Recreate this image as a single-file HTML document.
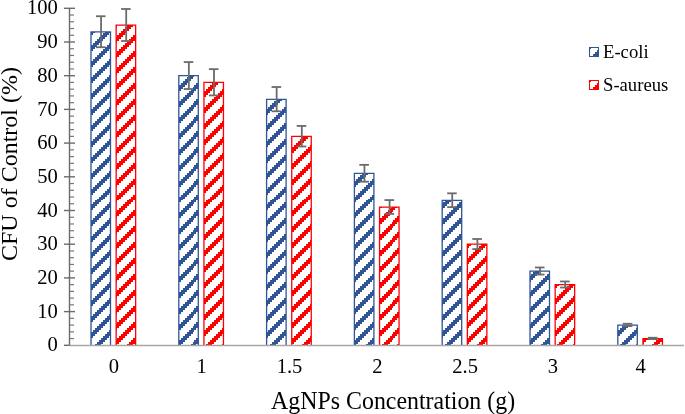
<!DOCTYPE html><html><head><meta charset="utf-8"><style>html,body{margin:0;padding:0;background:#fff;}svg{display:block;will-change:transform}text{font-family:"Liberation Serif",serif}</style></head><body>
<svg width="685" height="414" viewBox="0 0 685 414">

<rect width="685" height="414" fill="#fff"/>
<line x1="69.5" y1="8.30" x2="69.5" y2="346.00" stroke="#6d6a6a" stroke-width="1.4"/>
<line x1="64" y1="345.30" x2="69.5" y2="345.30" stroke="#6d6a6a" stroke-width="1.4"/>
<line x1="69.5" y1="338.56" x2="74" y2="338.56" stroke="#7a7676" stroke-width="1.2"/>
<line x1="69.5" y1="331.82" x2="74" y2="331.82" stroke="#7a7676" stroke-width="1.2"/>
<line x1="69.5" y1="325.08" x2="74" y2="325.08" stroke="#7a7676" stroke-width="1.2"/>
<line x1="69.5" y1="318.34" x2="74" y2="318.34" stroke="#7a7676" stroke-width="1.2"/>
<line x1="64" y1="311.60" x2="75" y2="311.60" stroke="#6d6a6a" stroke-width="1.4"/>
<line x1="69.5" y1="304.86" x2="74" y2="304.86" stroke="#7a7676" stroke-width="1.2"/>
<line x1="69.5" y1="298.12" x2="74" y2="298.12" stroke="#7a7676" stroke-width="1.2"/>
<line x1="69.5" y1="291.38" x2="74" y2="291.38" stroke="#7a7676" stroke-width="1.2"/>
<line x1="69.5" y1="284.64" x2="74" y2="284.64" stroke="#7a7676" stroke-width="1.2"/>
<line x1="64" y1="277.90" x2="75" y2="277.90" stroke="#6d6a6a" stroke-width="1.4"/>
<line x1="69.5" y1="271.16" x2="74" y2="271.16" stroke="#7a7676" stroke-width="1.2"/>
<line x1="69.5" y1="264.42" x2="74" y2="264.42" stroke="#7a7676" stroke-width="1.2"/>
<line x1="69.5" y1="257.68" x2="74" y2="257.68" stroke="#7a7676" stroke-width="1.2"/>
<line x1="69.5" y1="250.94" x2="74" y2="250.94" stroke="#7a7676" stroke-width="1.2"/>
<line x1="64" y1="244.20" x2="75" y2="244.20" stroke="#6d6a6a" stroke-width="1.4"/>
<line x1="69.5" y1="237.46" x2="74" y2="237.46" stroke="#7a7676" stroke-width="1.2"/>
<line x1="69.5" y1="230.72" x2="74" y2="230.72" stroke="#7a7676" stroke-width="1.2"/>
<line x1="69.5" y1="223.98" x2="74" y2="223.98" stroke="#7a7676" stroke-width="1.2"/>
<line x1="69.5" y1="217.24" x2="74" y2="217.24" stroke="#7a7676" stroke-width="1.2"/>
<line x1="64" y1="210.50" x2="75" y2="210.50" stroke="#6d6a6a" stroke-width="1.4"/>
<line x1="69.5" y1="203.76" x2="74" y2="203.76" stroke="#7a7676" stroke-width="1.2"/>
<line x1="69.5" y1="197.02" x2="74" y2="197.02" stroke="#7a7676" stroke-width="1.2"/>
<line x1="69.5" y1="190.28" x2="74" y2="190.28" stroke="#7a7676" stroke-width="1.2"/>
<line x1="69.5" y1="183.54" x2="74" y2="183.54" stroke="#7a7676" stroke-width="1.2"/>
<line x1="64" y1="176.80" x2="75" y2="176.80" stroke="#6d6a6a" stroke-width="1.4"/>
<line x1="69.5" y1="170.06" x2="74" y2="170.06" stroke="#7a7676" stroke-width="1.2"/>
<line x1="69.5" y1="163.32" x2="74" y2="163.32" stroke="#7a7676" stroke-width="1.2"/>
<line x1="69.5" y1="156.58" x2="74" y2="156.58" stroke="#7a7676" stroke-width="1.2"/>
<line x1="69.5" y1="149.84" x2="74" y2="149.84" stroke="#7a7676" stroke-width="1.2"/>
<line x1="64" y1="143.10" x2="75" y2="143.10" stroke="#6d6a6a" stroke-width="1.4"/>
<line x1="69.5" y1="136.36" x2="74" y2="136.36" stroke="#7a7676" stroke-width="1.2"/>
<line x1="69.5" y1="129.62" x2="74" y2="129.62" stroke="#7a7676" stroke-width="1.2"/>
<line x1="69.5" y1="122.88" x2="74" y2="122.88" stroke="#7a7676" stroke-width="1.2"/>
<line x1="69.5" y1="116.14" x2="74" y2="116.14" stroke="#7a7676" stroke-width="1.2"/>
<line x1="64" y1="109.40" x2="75" y2="109.40" stroke="#6d6a6a" stroke-width="1.4"/>
<line x1="69.5" y1="102.66" x2="74" y2="102.66" stroke="#7a7676" stroke-width="1.2"/>
<line x1="69.5" y1="95.92" x2="74" y2="95.92" stroke="#7a7676" stroke-width="1.2"/>
<line x1="69.5" y1="89.18" x2="74" y2="89.18" stroke="#7a7676" stroke-width="1.2"/>
<line x1="69.5" y1="82.44" x2="74" y2="82.44" stroke="#7a7676" stroke-width="1.2"/>
<line x1="64" y1="75.70" x2="75" y2="75.70" stroke="#6d6a6a" stroke-width="1.4"/>
<line x1="69.5" y1="68.96" x2="74" y2="68.96" stroke="#7a7676" stroke-width="1.2"/>
<line x1="69.5" y1="62.22" x2="74" y2="62.22" stroke="#7a7676" stroke-width="1.2"/>
<line x1="69.5" y1="55.48" x2="74" y2="55.48" stroke="#7a7676" stroke-width="1.2"/>
<line x1="69.5" y1="48.74" x2="74" y2="48.74" stroke="#7a7676" stroke-width="1.2"/>
<line x1="64" y1="42.00" x2="75" y2="42.00" stroke="#6d6a6a" stroke-width="1.4"/>
<line x1="69.5" y1="35.26" x2="74" y2="35.26" stroke="#7a7676" stroke-width="1.2"/>
<line x1="69.5" y1="28.52" x2="74" y2="28.52" stroke="#7a7676" stroke-width="1.2"/>
<line x1="69.5" y1="21.78" x2="74" y2="21.78" stroke="#7a7676" stroke-width="1.2"/>
<line x1="69.5" y1="15.04" x2="74" y2="15.04" stroke="#7a7676" stroke-width="1.2"/>
<line x1="64" y1="8.30" x2="75" y2="8.30" stroke="#6d6a6a" stroke-width="1.4"/>
<text transform="translate(57.8,351.40) scale(1,1.06)" text-anchor="end" font-size="20.6" fill="#000">0</text>
<text transform="translate(57.8,317.70) scale(1,1.06)" text-anchor="end" font-size="20.6" fill="#000">10</text>
<text transform="translate(57.8,284.00) scale(1,1.06)" text-anchor="end" font-size="20.6" fill="#000">20</text>
<text transform="translate(57.8,250.30) scale(1,1.06)" text-anchor="end" font-size="20.6" fill="#000">30</text>
<text transform="translate(57.8,216.60) scale(1,1.06)" text-anchor="end" font-size="20.6" fill="#000">40</text>
<text transform="translate(57.8,182.90) scale(1,1.06)" text-anchor="end" font-size="20.6" fill="#000">50</text>
<text transform="translate(57.8,149.20) scale(1,1.06)" text-anchor="end" font-size="20.6" fill="#000">60</text>
<text transform="translate(57.8,115.50) scale(1,1.06)" text-anchor="end" font-size="20.6" fill="#000">70</text>
<text transform="translate(57.8,81.80) scale(1,1.06)" text-anchor="end" font-size="20.6" fill="#000">80</text>
<text transform="translate(57.8,48.10) scale(1,1.06)" text-anchor="end" font-size="20.6" fill="#000">90</text>
<text transform="translate(57.8,14.40) scale(1,1.06)" text-anchor="end" font-size="20.6" fill="#000">100</text>
<path d="M91.00 31.89H94.99V33.33H91.00ZM104.94 31.89H110.50V33.33H104.94ZM91.00 33.33H93.00V35.32H91.00ZM102.95 33.33H108.92V35.32H102.95ZM91.00 35.32H91.01V37.31H91.00ZM100.96 35.32H106.93V37.31H100.96ZM98.97 37.31H104.94V39.30H98.97ZM96.98 39.30H102.95V41.29H96.98ZM94.99 41.29H100.96V43.28H94.99ZM93.00 43.28H98.97V45.27H93.00ZM108.92 43.28H110.50V45.27H108.92ZM91.01 45.27H96.98V47.26H91.01ZM106.93 45.27H110.50V47.26H106.93ZM91.00 47.26H94.99V49.25H91.00ZM104.94 47.26H110.50V49.25H104.94ZM91.00 49.25H93.00V51.24H91.00ZM102.95 49.25H108.92V51.24H102.95ZM91.00 51.24H91.01V53.23H91.00ZM100.96 51.24H106.93V53.23H100.96ZM98.97 53.23H104.94V55.22H98.97ZM96.98 55.22H102.95V57.21H96.98ZM94.99 57.21H100.96V59.20H94.99ZM93.00 59.20H98.97V61.19H93.00ZM108.92 59.20H110.50V61.19H108.92ZM91.01 61.19H96.98V63.18H91.01ZM106.93 61.19H110.50V63.18H106.93ZM91.00 63.18H94.99V65.17H91.00ZM104.94 63.18H110.50V65.17H104.94ZM91.00 65.17H93.00V67.16H91.00ZM102.95 65.17H108.92V67.16H102.95ZM91.00 67.16H91.01V69.15H91.00ZM100.96 67.16H106.93V69.15H100.96ZM98.97 69.15H104.94V71.14H98.97ZM96.98 71.14H102.95V73.13H96.98ZM94.99 73.13H100.96V75.12H94.99ZM93.00 75.12H98.97V77.11H93.00ZM108.92 75.12H110.50V77.11H108.92ZM91.01 77.11H96.98V79.10H91.01ZM106.93 77.11H110.50V79.10H106.93ZM91.00 79.10H94.99V81.09H91.00ZM104.94 79.10H110.50V81.09H104.94ZM91.00 81.09H93.00V83.08H91.00ZM102.95 81.09H108.92V83.08H102.95ZM91.00 83.08H91.01V85.07H91.00ZM100.96 83.08H106.93V85.07H100.96ZM98.97 85.07H104.94V87.06H98.97ZM96.98 87.06H102.95V89.05H96.98ZM94.99 89.05H100.96V91.04H94.99ZM93.00 91.04H98.97V93.03H93.00ZM108.92 91.04H110.50V93.03H108.92ZM91.01 93.03H96.98V95.02H91.01ZM106.93 93.03H110.50V95.02H106.93ZM91.00 95.02H94.99V97.01H91.00ZM104.94 95.02H110.50V97.01H104.94ZM91.00 97.01H93.00V99.00H91.00ZM102.95 97.01H108.92V99.00H102.95ZM91.00 99.00H91.01V100.99H91.00ZM100.96 99.00H106.93V100.99H100.96ZM98.97 100.99H104.94V102.98H98.97ZM96.98 102.98H102.95V104.97H96.98ZM94.99 104.97H100.96V106.96H94.99ZM93.00 106.96H98.97V108.95H93.00ZM108.92 106.96H110.50V108.95H108.92ZM91.01 108.95H96.98V110.94H91.01ZM106.93 108.95H110.50V110.94H106.93ZM91.00 110.94H94.99V112.93H91.00ZM104.94 110.94H110.50V112.93H104.94ZM91.00 112.93H93.00V114.92H91.00ZM102.95 112.93H108.92V114.92H102.95ZM91.00 114.92H91.01V116.91H91.00ZM100.96 114.92H106.93V116.91H100.96ZM98.97 116.91H104.94V118.90H98.97ZM96.98 118.90H102.95V120.89H96.98ZM94.99 120.89H100.96V122.88H94.99ZM93.00 122.88H98.97V124.87H93.00ZM108.92 122.88H110.50V124.87H108.92ZM91.01 124.87H96.98V126.86H91.01ZM106.93 124.87H110.50V126.86H106.93ZM91.00 126.86H94.99V128.85H91.00ZM104.94 126.86H110.50V128.85H104.94ZM91.00 128.85H93.00V130.84H91.00ZM102.95 128.85H108.92V130.84H102.95ZM91.00 130.84H91.01V132.83H91.00ZM100.96 130.84H106.93V132.83H100.96ZM98.97 132.83H104.94V134.82H98.97ZM96.98 134.82H102.95V136.81H96.98ZM94.99 136.81H100.96V138.80H94.99ZM93.00 138.80H98.97V140.79H93.00ZM108.92 138.80H110.50V140.79H108.92ZM91.01 140.79H96.98V142.78H91.01ZM106.93 140.79H110.50V142.78H106.93ZM91.00 142.78H94.99V144.77H91.00ZM104.94 142.78H110.50V144.77H104.94ZM91.00 144.77H93.00V146.76H91.00ZM102.95 144.77H108.92V146.76H102.95ZM91.00 146.76H91.01V148.75H91.00ZM100.96 146.76H106.93V148.75H100.96ZM98.97 148.75H104.94V150.74H98.97ZM96.98 150.74H102.95V152.73H96.98ZM94.99 152.73H100.96V154.72H94.99ZM93.00 154.72H98.97V156.71H93.00ZM108.92 154.72H110.50V156.71H108.92ZM91.01 156.71H96.98V158.70H91.01ZM106.93 156.71H110.50V158.70H106.93ZM91.00 158.70H94.99V160.69H91.00ZM104.94 158.70H110.50V160.69H104.94ZM91.00 160.69H93.00V162.68H91.00ZM102.95 160.69H108.92V162.68H102.95ZM91.00 162.68H91.01V164.67H91.00ZM100.96 162.68H106.93V164.67H100.96ZM98.97 164.67H104.94V166.66H98.97ZM96.98 166.66H102.95V168.65H96.98ZM94.99 168.65H100.96V170.64H94.99ZM93.00 170.64H98.97V172.63H93.00ZM108.92 170.64H110.50V172.63H108.92ZM91.01 172.63H96.98V174.62H91.01ZM106.93 172.63H110.50V174.62H106.93ZM91.00 174.62H94.99V176.61H91.00ZM104.94 174.62H110.50V176.61H104.94ZM91.00 176.61H93.00V178.60H91.00ZM102.95 176.61H108.92V178.60H102.95ZM91.00 178.60H91.01V180.59H91.00ZM100.96 178.60H106.93V180.59H100.96ZM98.97 180.59H104.94V182.58H98.97ZM96.98 182.58H102.95V184.57H96.98ZM94.99 184.57H100.96V186.56H94.99ZM93.00 186.56H98.97V188.55H93.00ZM108.92 186.56H110.50V188.55H108.92ZM91.01 188.55H96.98V190.54H91.01ZM106.93 188.55H110.50V190.54H106.93ZM91.00 190.54H94.99V192.53H91.00ZM104.94 190.54H110.50V192.53H104.94ZM91.00 192.53H93.00V194.52H91.00ZM102.95 192.53H108.92V194.52H102.95ZM91.00 194.52H91.01V196.51H91.00ZM100.96 194.52H106.93V196.51H100.96ZM98.97 196.51H104.94V198.50H98.97ZM96.98 198.50H102.95V200.49H96.98ZM94.99 200.49H100.96V202.48H94.99ZM93.00 202.48H98.97V204.47H93.00ZM108.92 202.48H110.50V204.47H108.92ZM91.01 204.47H96.98V206.46H91.01ZM106.93 204.47H110.50V206.46H106.93ZM91.00 206.46H94.99V208.45H91.00ZM104.94 206.46H110.50V208.45H104.94ZM91.00 208.45H93.00V210.44H91.00ZM102.95 208.45H108.92V210.44H102.95ZM91.00 210.44H91.01V212.43H91.00ZM100.96 210.44H106.93V212.43H100.96ZM98.97 212.43H104.94V214.42H98.97ZM96.98 214.42H102.95V216.41H96.98ZM94.99 216.41H100.96V218.40H94.99ZM93.00 218.40H98.97V220.39H93.00ZM108.92 218.40H110.50V220.39H108.92ZM91.01 220.39H96.98V222.38H91.01ZM106.93 220.39H110.50V222.38H106.93ZM91.00 222.38H94.99V224.37H91.00ZM104.94 222.38H110.50V224.37H104.94ZM91.00 224.37H93.00V226.36H91.00ZM102.95 224.37H108.92V226.36H102.95ZM91.00 226.36H91.01V228.35H91.00ZM100.96 226.36H106.93V228.35H100.96ZM98.97 228.35H104.94V230.34H98.97ZM96.98 230.34H102.95V232.33H96.98ZM94.99 232.33H100.96V234.32H94.99ZM93.00 234.32H98.97V236.31H93.00ZM108.92 234.32H110.50V236.31H108.92ZM91.01 236.31H96.98V238.30H91.01ZM106.93 236.31H110.50V238.30H106.93ZM91.00 238.30H94.99V240.29H91.00ZM104.94 238.30H110.50V240.29H104.94ZM91.00 240.29H93.00V242.28H91.00ZM102.95 240.29H108.92V242.28H102.95ZM91.00 242.28H91.01V244.27H91.00ZM100.96 242.28H106.93V244.27H100.96ZM98.97 244.27H104.94V246.26H98.97ZM96.98 246.26H102.95V248.25H96.98ZM94.99 248.25H100.96V250.24H94.99ZM93.00 250.24H98.97V252.23H93.00ZM108.92 250.24H110.50V252.23H108.92ZM91.01 252.23H96.98V254.22H91.01ZM106.93 252.23H110.50V254.22H106.93ZM91.00 254.22H94.99V256.21H91.00ZM104.94 254.22H110.50V256.21H104.94ZM91.00 256.21H93.00V258.20H91.00ZM102.95 256.21H108.92V258.20H102.95ZM91.00 258.20H91.01V260.19H91.00ZM100.96 258.20H106.93V260.19H100.96ZM98.97 260.19H104.94V262.18H98.97ZM96.98 262.18H102.95V264.17H96.98ZM94.99 264.17H100.96V266.16H94.99ZM93.00 266.16H98.97V268.15H93.00ZM108.92 266.16H110.50V268.15H108.92ZM91.01 268.15H96.98V270.14H91.01ZM106.93 268.15H110.50V270.14H106.93ZM91.00 270.14H94.99V272.13H91.00ZM104.94 270.14H110.50V272.13H104.94ZM91.00 272.13H93.00V274.12H91.00ZM102.95 272.13H108.92V274.12H102.95ZM91.00 274.12H91.01V276.11H91.00ZM100.96 274.12H106.93V276.11H100.96ZM98.97 276.11H104.94V278.10H98.97ZM96.98 278.10H102.95V280.09H96.98ZM94.99 280.09H100.96V282.08H94.99ZM93.00 282.08H98.97V284.07H93.00ZM108.92 282.08H110.50V284.07H108.92ZM91.01 284.07H96.98V286.06H91.01ZM106.93 284.07H110.50V286.06H106.93ZM91.00 286.06H94.99V288.05H91.00ZM104.94 286.06H110.50V288.05H104.94ZM91.00 288.05H93.00V290.04H91.00ZM102.95 288.05H108.92V290.04H102.95ZM91.00 290.04H91.01V292.03H91.00ZM100.96 290.04H106.93V292.03H100.96ZM98.97 292.03H104.94V294.02H98.97ZM96.98 294.02H102.95V296.01H96.98ZM94.99 296.01H100.96V298.00H94.99ZM93.00 298.00H98.97V299.99H93.00ZM108.92 298.00H110.50V299.99H108.92ZM91.01 299.99H96.98V301.98H91.01ZM106.93 299.99H110.50V301.98H106.93ZM91.00 301.98H94.99V303.97H91.00ZM104.94 301.98H110.50V303.97H104.94ZM91.00 303.97H93.00V305.96H91.00ZM102.95 303.97H108.92V305.96H102.95ZM91.00 305.96H91.01V307.95H91.00ZM100.96 305.96H106.93V307.95H100.96ZM98.97 307.95H104.94V309.94H98.97ZM96.98 309.94H102.95V311.93H96.98ZM94.99 311.93H100.96V313.92H94.99ZM93.00 313.92H98.97V315.91H93.00ZM108.92 313.92H110.50V315.91H108.92ZM91.01 315.91H96.98V317.90H91.01ZM106.93 315.91H110.50V317.90H106.93ZM91.00 317.90H94.99V319.89H91.00ZM104.94 317.90H110.50V319.89H104.94ZM91.00 319.89H93.00V321.88H91.00ZM102.95 319.89H108.92V321.88H102.95ZM91.00 321.88H91.01V323.87H91.00ZM100.96 321.88H106.93V323.87H100.96ZM98.97 323.87H104.94V325.86H98.97ZM96.98 325.86H102.95V327.85H96.98ZM94.99 327.85H100.96V329.84H94.99ZM93.00 329.84H98.97V331.83H93.00ZM108.92 329.84H110.50V331.83H108.92ZM91.01 331.83H96.98V333.82H91.01ZM106.93 331.83H110.50V333.82H106.93ZM91.00 333.82H94.99V335.81H91.00ZM104.94 333.82H110.50V335.81H104.94ZM91.00 335.81H93.00V337.80H91.00ZM102.95 335.81H108.92V337.80H102.95ZM91.00 337.80H91.01V339.79H91.00ZM100.96 337.80H106.93V339.79H100.96ZM98.97 339.79H104.94V341.78H98.97ZM96.98 341.78H102.95V343.77H96.98ZM94.99 343.77H100.96V345.30H94.99ZM188.52 75.70H194.49V77.11H188.52ZM186.53 77.11H192.50V79.10H186.53ZM184.54 79.10H190.51V81.09H184.54ZM182.55 81.09H188.52V83.08H182.55ZM180.56 83.08H186.53V85.07H180.56ZM196.48 83.08H198.30V85.07H196.48ZM178.80 85.07H184.54V87.06H178.80ZM194.49 85.07H198.30V87.06H194.49ZM178.80 87.06H182.55V89.05H178.80ZM192.50 87.06H198.30V89.05H192.50ZM178.80 89.05H180.56V91.04H178.80ZM190.51 89.05H196.48V91.04H190.51ZM188.52 91.04H194.49V93.03H188.52ZM186.53 93.03H192.50V95.02H186.53ZM184.54 95.02H190.51V97.01H184.54ZM182.55 97.01H188.52V99.00H182.55ZM180.56 99.00H186.53V100.99H180.56ZM196.48 99.00H198.30V100.99H196.48ZM178.80 100.99H184.54V102.98H178.80ZM194.49 100.99H198.30V102.98H194.49ZM178.80 102.98H182.55V104.97H178.80ZM192.50 102.98H198.30V104.97H192.50ZM178.80 104.97H180.56V106.96H178.80ZM190.51 104.97H196.48V106.96H190.51ZM188.52 106.96H194.49V108.95H188.52ZM186.53 108.95H192.50V110.94H186.53ZM184.54 110.94H190.51V112.93H184.54ZM182.55 112.93H188.52V114.92H182.55ZM180.56 114.92H186.53V116.91H180.56ZM196.48 114.92H198.30V116.91H196.48ZM178.80 116.91H184.54V118.90H178.80ZM194.49 116.91H198.30V118.90H194.49ZM178.80 118.90H182.55V120.89H178.80ZM192.50 118.90H198.30V120.89H192.50ZM178.80 120.89H180.56V122.88H178.80ZM190.51 120.89H196.48V122.88H190.51ZM188.52 122.88H194.49V124.87H188.52ZM186.53 124.87H192.50V126.86H186.53ZM184.54 126.86H190.51V128.85H184.54ZM182.55 128.85H188.52V130.84H182.55ZM180.56 130.84H186.53V132.83H180.56ZM196.48 130.84H198.30V132.83H196.48ZM178.80 132.83H184.54V134.82H178.80ZM194.49 132.83H198.30V134.82H194.49ZM178.80 134.82H182.55V136.81H178.80ZM192.50 134.82H198.30V136.81H192.50ZM178.80 136.81H180.56V138.80H178.80ZM190.51 136.81H196.48V138.80H190.51ZM188.52 138.80H194.49V140.79H188.52ZM186.53 140.79H192.50V142.78H186.53ZM184.54 142.78H190.51V144.77H184.54ZM182.55 144.77H188.52V146.76H182.55ZM180.56 146.76H186.53V148.75H180.56ZM196.48 146.76H198.30V148.75H196.48ZM178.80 148.75H184.54V150.74H178.80ZM194.49 148.75H198.30V150.74H194.49ZM178.80 150.74H182.55V152.73H178.80ZM192.50 150.74H198.30V152.73H192.50ZM178.80 152.73H180.56V154.72H178.80ZM190.51 152.73H196.48V154.72H190.51ZM188.52 154.72H194.49V156.71H188.52ZM186.53 156.71H192.50V158.70H186.53ZM184.54 158.70H190.51V160.69H184.54ZM182.55 160.69H188.52V162.68H182.55ZM180.56 162.68H186.53V164.67H180.56ZM196.48 162.68H198.30V164.67H196.48ZM178.80 164.67H184.54V166.66H178.80ZM194.49 164.67H198.30V166.66H194.49ZM178.80 166.66H182.55V168.65H178.80ZM192.50 166.66H198.30V168.65H192.50ZM178.80 168.65H180.56V170.64H178.80ZM190.51 168.65H196.48V170.64H190.51ZM188.52 170.64H194.49V172.63H188.52ZM186.53 172.63H192.50V174.62H186.53ZM184.54 174.62H190.51V176.61H184.54ZM182.55 176.61H188.52V178.60H182.55ZM180.56 178.60H186.53V180.59H180.56ZM196.48 178.60H198.30V180.59H196.48ZM178.80 180.59H184.54V182.58H178.80ZM194.49 180.59H198.30V182.58H194.49ZM178.80 182.58H182.55V184.57H178.80ZM192.50 182.58H198.30V184.57H192.50ZM178.80 184.57H180.56V186.56H178.80ZM190.51 184.57H196.48V186.56H190.51ZM188.52 186.56H194.49V188.55H188.52ZM186.53 188.55H192.50V190.54H186.53ZM184.54 190.54H190.51V192.53H184.54ZM182.55 192.53H188.52V194.52H182.55ZM180.56 194.52H186.53V196.51H180.56ZM196.48 194.52H198.30V196.51H196.48ZM178.80 196.51H184.54V198.50H178.80ZM194.49 196.51H198.30V198.50H194.49ZM178.80 198.50H182.55V200.49H178.80ZM192.50 198.50H198.30V200.49H192.50ZM178.80 200.49H180.56V202.48H178.80ZM190.51 200.49H196.48V202.48H190.51ZM188.52 202.48H194.49V204.47H188.52ZM186.53 204.47H192.50V206.46H186.53ZM184.54 206.46H190.51V208.45H184.54ZM182.55 208.45H188.52V210.44H182.55ZM180.56 210.44H186.53V212.43H180.56ZM196.48 210.44H198.30V212.43H196.48ZM178.80 212.43H184.54V214.42H178.80ZM194.49 212.43H198.30V214.42H194.49ZM178.80 214.42H182.55V216.41H178.80ZM192.50 214.42H198.30V216.41H192.50ZM178.80 216.41H180.56V218.40H178.80ZM190.51 216.41H196.48V218.40H190.51ZM188.52 218.40H194.49V220.39H188.52ZM186.53 220.39H192.50V222.38H186.53ZM184.54 222.38H190.51V224.37H184.54ZM182.55 224.37H188.52V226.36H182.55ZM180.56 226.36H186.53V228.35H180.56ZM196.48 226.36H198.30V228.35H196.48ZM178.80 228.35H184.54V230.34H178.80ZM194.49 228.35H198.30V230.34H194.49ZM178.80 230.34H182.55V232.33H178.80ZM192.50 230.34H198.30V232.33H192.50ZM178.80 232.33H180.56V234.32H178.80ZM190.51 232.33H196.48V234.32H190.51ZM188.52 234.32H194.49V236.31H188.52ZM186.53 236.31H192.50V238.30H186.53ZM184.54 238.30H190.51V240.29H184.54ZM182.55 240.29H188.52V242.28H182.55ZM180.56 242.28H186.53V244.27H180.56ZM196.48 242.28H198.30V244.27H196.48ZM178.80 244.27H184.54V246.26H178.80ZM194.49 244.27H198.30V246.26H194.49ZM178.80 246.26H182.55V248.25H178.80ZM192.50 246.26H198.30V248.25H192.50ZM178.80 248.25H180.56V250.24H178.80ZM190.51 248.25H196.48V250.24H190.51ZM188.52 250.24H194.49V252.23H188.52ZM186.53 252.23H192.50V254.22H186.53ZM184.54 254.22H190.51V256.21H184.54ZM182.55 256.21H188.52V258.20H182.55ZM180.56 258.20H186.53V260.19H180.56ZM196.48 258.20H198.30V260.19H196.48ZM178.80 260.19H184.54V262.18H178.80ZM194.49 260.19H198.30V262.18H194.49ZM178.80 262.18H182.55V264.17H178.80ZM192.50 262.18H198.30V264.17H192.50ZM178.80 264.17H180.56V266.16H178.80ZM190.51 264.17H196.48V266.16H190.51ZM188.52 266.16H194.49V268.15H188.52ZM186.53 268.15H192.50V270.14H186.53ZM184.54 270.14H190.51V272.13H184.54ZM182.55 272.13H188.52V274.12H182.55ZM180.56 274.12H186.53V276.11H180.56ZM196.48 274.12H198.30V276.11H196.48ZM178.80 276.11H184.54V278.10H178.80ZM194.49 276.11H198.30V278.10H194.49ZM178.80 278.10H182.55V280.09H178.80ZM192.50 278.10H198.30V280.09H192.50ZM178.80 280.09H180.56V282.08H178.80ZM190.51 280.09H196.48V282.08H190.51ZM188.52 282.08H194.49V284.07H188.52ZM186.53 284.07H192.50V286.06H186.53ZM184.54 286.06H190.51V288.05H184.54ZM182.55 288.05H188.52V290.04H182.55ZM180.56 290.04H186.53V292.03H180.56ZM196.48 290.04H198.30V292.03H196.48ZM178.80 292.03H184.54V294.02H178.80ZM194.49 292.03H198.30V294.02H194.49ZM178.80 294.02H182.55V296.01H178.80ZM192.50 294.02H198.30V296.01H192.50ZM178.80 296.01H180.56V298.00H178.80ZM190.51 296.01H196.48V298.00H190.51ZM188.52 298.00H194.49V299.99H188.52ZM186.53 299.99H192.50V301.98H186.53ZM184.54 301.98H190.51V303.97H184.54ZM182.55 303.97H188.52V305.96H182.55ZM180.56 305.96H186.53V307.95H180.56ZM196.48 305.96H198.30V307.95H196.48ZM178.80 307.95H184.54V309.94H178.80ZM194.49 307.95H198.30V309.94H194.49ZM178.80 309.94H182.55V311.93H178.80ZM192.50 309.94H198.30V311.93H192.50ZM178.80 311.93H180.56V313.92H178.80ZM190.51 311.93H196.48V313.92H190.51ZM188.52 313.92H194.49V315.91H188.52ZM186.53 315.91H192.50V317.90H186.53ZM184.54 317.90H190.51V319.89H184.54ZM182.55 319.89H188.52V321.88H182.55ZM180.56 321.88H186.53V323.87H180.56ZM196.48 321.88H198.30V323.87H196.48ZM178.80 323.87H184.54V325.86H178.80ZM194.49 323.87H198.30V325.86H194.49ZM178.80 325.86H182.55V327.85H178.80ZM192.50 325.86H198.30V327.85H192.50ZM178.80 327.85H180.56V329.84H178.80ZM190.51 327.85H196.48V329.84H190.51ZM188.52 329.84H194.49V331.83H188.52ZM186.53 331.83H192.50V333.82H186.53ZM184.54 333.82H190.51V335.81H184.54ZM182.55 335.81H188.52V337.80H182.55ZM180.56 337.80H186.53V339.79H180.56ZM196.48 337.80H198.30V339.79H196.48ZM178.80 339.79H184.54V341.78H178.80ZM194.49 339.79H198.30V341.78H194.49ZM178.80 341.78H182.55V343.77H178.80ZM192.50 341.78H198.30V343.77H192.50ZM178.80 343.77H180.56V345.30H178.80ZM190.51 343.77H196.48V345.30H190.51ZM276.08 99.29H282.05V100.99H276.08ZM274.09 100.99H280.06V102.98H274.09ZM272.10 102.98H278.07V104.97H272.10ZM270.11 104.97H276.08V106.96H270.11ZM286.03 104.97H286.10V106.96H286.03ZM268.12 106.96H274.09V108.95H268.12ZM284.04 106.96H286.10V108.95H284.04ZM266.60 108.95H272.10V110.94H266.60ZM282.05 108.95H286.10V110.94H282.05ZM266.60 110.94H270.11V112.93H266.60ZM280.06 110.94H286.03V112.93H280.06ZM266.60 112.93H268.12V114.92H266.60ZM278.07 112.93H284.04V114.92H278.07ZM276.08 114.92H282.05V116.91H276.08ZM274.09 116.91H280.06V118.90H274.09ZM272.10 118.90H278.07V120.89H272.10ZM270.11 120.89H276.08V122.88H270.11ZM286.03 120.89H286.10V122.88H286.03ZM268.12 122.88H274.09V124.87H268.12ZM284.04 122.88H286.10V124.87H284.04ZM266.60 124.87H272.10V126.86H266.60ZM282.05 124.87H286.10V126.86H282.05ZM266.60 126.86H270.11V128.85H266.60ZM280.06 126.86H286.03V128.85H280.06ZM266.60 128.85H268.12V130.84H266.60ZM278.07 128.85H284.04V130.84H278.07ZM276.08 130.84H282.05V132.83H276.08ZM274.09 132.83H280.06V134.82H274.09ZM272.10 134.82H278.07V136.81H272.10ZM270.11 136.81H276.08V138.80H270.11ZM286.03 136.81H286.10V138.80H286.03ZM268.12 138.80H274.09V140.79H268.12ZM284.04 138.80H286.10V140.79H284.04ZM266.60 140.79H272.10V142.78H266.60ZM282.05 140.79H286.10V142.78H282.05ZM266.60 142.78H270.11V144.77H266.60ZM280.06 142.78H286.03V144.77H280.06ZM266.60 144.77H268.12V146.76H266.60ZM278.07 144.77H284.04V146.76H278.07ZM276.08 146.76H282.05V148.75H276.08ZM274.09 148.75H280.06V150.74H274.09ZM272.10 150.74H278.07V152.73H272.10ZM270.11 152.73H276.08V154.72H270.11ZM286.03 152.73H286.10V154.72H286.03ZM268.12 154.72H274.09V156.71H268.12ZM284.04 154.72H286.10V156.71H284.04ZM266.60 156.71H272.10V158.70H266.60ZM282.05 156.71H286.10V158.70H282.05ZM266.60 158.70H270.11V160.69H266.60ZM280.06 158.70H286.03V160.69H280.06ZM266.60 160.69H268.12V162.68H266.60ZM278.07 160.69H284.04V162.68H278.07ZM276.08 162.68H282.05V164.67H276.08ZM274.09 164.67H280.06V166.66H274.09ZM272.10 166.66H278.07V168.65H272.10ZM270.11 168.65H276.08V170.64H270.11ZM286.03 168.65H286.10V170.64H286.03ZM268.12 170.64H274.09V172.63H268.12ZM284.04 170.64H286.10V172.63H284.04ZM266.60 172.63H272.10V174.62H266.60ZM282.05 172.63H286.10V174.62H282.05ZM266.60 174.62H270.11V176.61H266.60ZM280.06 174.62H286.03V176.61H280.06ZM266.60 176.61H268.12V178.60H266.60ZM278.07 176.61H284.04V178.60H278.07ZM276.08 178.60H282.05V180.59H276.08ZM274.09 180.59H280.06V182.58H274.09ZM272.10 182.58H278.07V184.57H272.10ZM270.11 184.57H276.08V186.56H270.11ZM286.03 184.57H286.10V186.56H286.03ZM268.12 186.56H274.09V188.55H268.12ZM284.04 186.56H286.10V188.55H284.04ZM266.60 188.55H272.10V190.54H266.60ZM282.05 188.55H286.10V190.54H282.05ZM266.60 190.54H270.11V192.53H266.60ZM280.06 190.54H286.03V192.53H280.06ZM266.60 192.53H268.12V194.52H266.60ZM278.07 192.53H284.04V194.52H278.07ZM276.08 194.52H282.05V196.51H276.08ZM274.09 196.51H280.06V198.50H274.09ZM272.10 198.50H278.07V200.49H272.10ZM270.11 200.49H276.08V202.48H270.11ZM286.03 200.49H286.10V202.48H286.03ZM268.12 202.48H274.09V204.47H268.12ZM284.04 202.48H286.10V204.47H284.04ZM266.60 204.47H272.10V206.46H266.60ZM282.05 204.47H286.10V206.46H282.05ZM266.60 206.46H270.11V208.45H266.60ZM280.06 206.46H286.03V208.45H280.06ZM266.60 208.45H268.12V210.44H266.60ZM278.07 208.45H284.04V210.44H278.07ZM276.08 210.44H282.05V212.43H276.08ZM274.09 212.43H280.06V214.42H274.09ZM272.10 214.42H278.07V216.41H272.10ZM270.11 216.41H276.08V218.40H270.11ZM286.03 216.41H286.10V218.40H286.03ZM268.12 218.40H274.09V220.39H268.12ZM284.04 218.40H286.10V220.39H284.04ZM266.60 220.39H272.10V222.38H266.60ZM282.05 220.39H286.10V222.38H282.05ZM266.60 222.38H270.11V224.37H266.60ZM280.06 222.38H286.03V224.37H280.06ZM266.60 224.37H268.12V226.36H266.60ZM278.07 224.37H284.04V226.36H278.07ZM276.08 226.36H282.05V228.35H276.08ZM274.09 228.35H280.06V230.34H274.09ZM272.10 230.34H278.07V232.33H272.10ZM270.11 232.33H276.08V234.32H270.11ZM286.03 232.33H286.10V234.32H286.03ZM268.12 234.32H274.09V236.31H268.12ZM284.04 234.32H286.10V236.31H284.04ZM266.60 236.31H272.10V238.30H266.60ZM282.05 236.31H286.10V238.30H282.05ZM266.60 238.30H270.11V240.29H266.60ZM280.06 238.30H286.03V240.29H280.06ZM266.60 240.29H268.12V242.28H266.60ZM278.07 240.29H284.04V242.28H278.07ZM276.08 242.28H282.05V244.27H276.08ZM274.09 244.27H280.06V246.26H274.09ZM272.10 246.26H278.07V248.25H272.10ZM270.11 248.25H276.08V250.24H270.11ZM286.03 248.25H286.10V250.24H286.03ZM268.12 250.24H274.09V252.23H268.12ZM284.04 250.24H286.10V252.23H284.04ZM266.60 252.23H272.10V254.22H266.60ZM282.05 252.23H286.10V254.22H282.05ZM266.60 254.22H270.11V256.21H266.60ZM280.06 254.22H286.03V256.21H280.06ZM266.60 256.21H268.12V258.20H266.60ZM278.07 256.21H284.04V258.20H278.07ZM276.08 258.20H282.05V260.19H276.08ZM274.09 260.19H280.06V262.18H274.09ZM272.10 262.18H278.07V264.17H272.10ZM270.11 264.17H276.08V266.16H270.11ZM286.03 264.17H286.10V266.16H286.03ZM268.12 266.16H274.09V268.15H268.12ZM284.04 266.16H286.10V268.15H284.04ZM266.60 268.15H272.10V270.14H266.60ZM282.05 268.15H286.10V270.14H282.05ZM266.60 270.14H270.11V272.13H266.60ZM280.06 270.14H286.03V272.13H280.06ZM266.60 272.13H268.12V274.12H266.60ZM278.07 272.13H284.04V274.12H278.07ZM276.08 274.12H282.05V276.11H276.08ZM274.09 276.11H280.06V278.10H274.09ZM272.10 278.10H278.07V280.09H272.10ZM270.11 280.09H276.08V282.08H270.11ZM286.03 280.09H286.10V282.08H286.03ZM268.12 282.08H274.09V284.07H268.12ZM284.04 282.08H286.10V284.07H284.04ZM266.60 284.07H272.10V286.06H266.60ZM282.05 284.07H286.10V286.06H282.05ZM266.60 286.06H270.11V288.05H266.60ZM280.06 286.06H286.03V288.05H280.06ZM266.60 288.05H268.12V290.04H266.60ZM278.07 288.05H284.04V290.04H278.07ZM276.08 290.04H282.05V292.03H276.08ZM274.09 292.03H280.06V294.02H274.09ZM272.10 294.02H278.07V296.01H272.10ZM270.11 296.01H276.08V298.00H270.11ZM286.03 296.01H286.10V298.00H286.03ZM268.12 298.00H274.09V299.99H268.12ZM284.04 298.00H286.10V299.99H284.04ZM266.60 299.99H272.10V301.98H266.60ZM282.05 299.99H286.10V301.98H282.05ZM266.60 301.98H270.11V303.97H266.60ZM280.06 301.98H286.03V303.97H280.06ZM266.60 303.97H268.12V305.96H266.60ZM278.07 303.97H284.04V305.96H278.07ZM276.08 305.96H282.05V307.95H276.08ZM274.09 307.95H280.06V309.94H274.09ZM272.10 309.94H278.07V311.93H272.10ZM270.11 311.93H276.08V313.92H270.11ZM286.03 311.93H286.10V313.92H286.03ZM268.12 313.92H274.09V315.91H268.12ZM284.04 313.92H286.10V315.91H284.04ZM266.60 315.91H272.10V317.90H266.60ZM282.05 315.91H286.10V317.90H282.05ZM266.60 317.90H270.11V319.89H266.60ZM280.06 317.90H286.03V319.89H280.06ZM266.60 319.89H268.12V321.88H266.60ZM278.07 319.89H284.04V321.88H278.07ZM276.08 321.88H282.05V323.87H276.08ZM274.09 323.87H280.06V325.86H274.09ZM272.10 325.86H278.07V327.85H272.10ZM270.11 327.85H276.08V329.84H270.11ZM286.03 327.85H286.10V329.84H286.03ZM268.12 329.84H274.09V331.83H268.12ZM284.04 329.84H286.10V331.83H284.04ZM266.60 331.83H272.10V333.82H266.60ZM282.05 331.83H286.10V333.82H282.05ZM266.60 333.82H270.11V335.81H266.60ZM280.06 333.82H286.03V335.81H280.06ZM266.60 335.81H268.12V337.80H266.60ZM278.07 335.81H284.04V337.80H278.07ZM276.08 337.80H282.05V339.79H276.08ZM274.09 339.79H280.06V341.78H274.09ZM272.10 341.78H278.07V343.77H272.10ZM270.11 343.77H276.08V345.30H270.11ZM286.03 343.77H286.10V345.30H286.03ZM361.65 173.43H367.62V174.62H361.65ZM359.66 174.62H365.63V176.61H359.66ZM357.67 176.61H363.64V178.60H357.67ZM373.59 176.61H373.90V178.60H373.59ZM355.68 178.60H361.65V180.59H355.68ZM371.60 178.60H373.90V180.59H371.60ZM354.40 180.59H359.66V182.58H354.40ZM369.61 180.59H373.90V182.58H369.61ZM354.40 182.58H357.67V184.57H354.40ZM367.62 182.58H373.59V184.57H367.62ZM354.40 184.57H355.68V186.56H354.40ZM365.63 184.57H371.60V186.56H365.63ZM363.64 186.56H369.61V188.55H363.64ZM361.65 188.55H367.62V190.54H361.65ZM359.66 190.54H365.63V192.53H359.66ZM357.67 192.53H363.64V194.52H357.67ZM373.59 192.53H373.90V194.52H373.59ZM355.68 194.52H361.65V196.51H355.68ZM371.60 194.52H373.90V196.51H371.60ZM354.40 196.51H359.66V198.50H354.40ZM369.61 196.51H373.90V198.50H369.61ZM354.40 198.50H357.67V200.49H354.40ZM367.62 198.50H373.59V200.49H367.62ZM354.40 200.49H355.68V202.48H354.40ZM365.63 200.49H371.60V202.48H365.63ZM363.64 202.48H369.61V204.47H363.64ZM361.65 204.47H367.62V206.46H361.65ZM359.66 206.46H365.63V208.45H359.66ZM357.67 208.45H363.64V210.44H357.67ZM373.59 208.45H373.90V210.44H373.59ZM355.68 210.44H361.65V212.43H355.68ZM371.60 210.44H373.90V212.43H371.60ZM354.40 212.43H359.66V214.42H354.40ZM369.61 212.43H373.90V214.42H369.61ZM354.40 214.42H357.67V216.41H354.40ZM367.62 214.42H373.59V216.41H367.62ZM354.40 216.41H355.68V218.40H354.40ZM365.63 216.41H371.60V218.40H365.63ZM363.64 218.40H369.61V220.39H363.64ZM361.65 220.39H367.62V222.38H361.65ZM359.66 222.38H365.63V224.37H359.66ZM357.67 224.37H363.64V226.36H357.67ZM373.59 224.37H373.90V226.36H373.59ZM355.68 226.36H361.65V228.35H355.68ZM371.60 226.36H373.90V228.35H371.60ZM354.40 228.35H359.66V230.34H354.40ZM369.61 228.35H373.90V230.34H369.61ZM354.40 230.34H357.67V232.33H354.40ZM367.62 230.34H373.59V232.33H367.62ZM354.40 232.33H355.68V234.32H354.40ZM365.63 232.33H371.60V234.32H365.63ZM363.64 234.32H369.61V236.31H363.64ZM361.65 236.31H367.62V238.30H361.65ZM359.66 238.30H365.63V240.29H359.66ZM357.67 240.29H363.64V242.28H357.67ZM373.59 240.29H373.90V242.28H373.59ZM355.68 242.28H361.65V244.27H355.68ZM371.60 242.28H373.90V244.27H371.60ZM354.40 244.27H359.66V246.26H354.40ZM369.61 244.27H373.90V246.26H369.61ZM354.40 246.26H357.67V248.25H354.40ZM367.62 246.26H373.59V248.25H367.62ZM354.40 248.25H355.68V250.24H354.40ZM365.63 248.25H371.60V250.24H365.63ZM363.64 250.24H369.61V252.23H363.64ZM361.65 252.23H367.62V254.22H361.65ZM359.66 254.22H365.63V256.21H359.66ZM357.67 256.21H363.64V258.20H357.67ZM373.59 256.21H373.90V258.20H373.59ZM355.68 258.20H361.65V260.19H355.68ZM371.60 258.20H373.90V260.19H371.60ZM354.40 260.19H359.66V262.18H354.40ZM369.61 260.19H373.90V262.18H369.61ZM354.40 262.18H357.67V264.17H354.40ZM367.62 262.18H373.59V264.17H367.62ZM354.40 264.17H355.68V266.16H354.40ZM365.63 264.17H371.60V266.16H365.63ZM363.64 266.16H369.61V268.15H363.64ZM361.65 268.15H367.62V270.14H361.65ZM359.66 270.14H365.63V272.13H359.66ZM357.67 272.13H363.64V274.12H357.67ZM373.59 272.13H373.90V274.12H373.59ZM355.68 274.12H361.65V276.11H355.68ZM371.60 274.12H373.90V276.11H371.60ZM354.40 276.11H359.66V278.10H354.40ZM369.61 276.11H373.90V278.10H369.61ZM354.40 278.10H357.67V280.09H354.40ZM367.62 278.10H373.59V280.09H367.62ZM354.40 280.09H355.68V282.08H354.40ZM365.63 280.09H371.60V282.08H365.63ZM363.64 282.08H369.61V284.07H363.64ZM361.65 284.07H367.62V286.06H361.65ZM359.66 286.06H365.63V288.05H359.66ZM357.67 288.05H363.64V290.04H357.67ZM373.59 288.05H373.90V290.04H373.59ZM355.68 290.04H361.65V292.03H355.68ZM371.60 290.04H373.90V292.03H371.60ZM354.40 292.03H359.66V294.02H354.40ZM369.61 292.03H373.90V294.02H369.61ZM354.40 294.02H357.67V296.01H354.40ZM367.62 294.02H373.59V296.01H367.62ZM354.40 296.01H355.68V298.00H354.40ZM365.63 296.01H371.60V298.00H365.63ZM363.64 298.00H369.61V299.99H363.64ZM361.65 299.99H367.62V301.98H361.65ZM359.66 301.98H365.63V303.97H359.66ZM357.67 303.97H363.64V305.96H357.67ZM373.59 303.97H373.90V305.96H373.59ZM355.68 305.96H361.65V307.95H355.68ZM371.60 305.96H373.90V307.95H371.60ZM354.40 307.95H359.66V309.94H354.40ZM369.61 307.95H373.90V309.94H369.61ZM354.40 309.94H357.67V311.93H354.40ZM367.62 309.94H373.59V311.93H367.62ZM354.40 311.93H355.68V313.92H354.40ZM365.63 311.93H371.60V313.92H365.63ZM363.64 313.92H369.61V315.91H363.64ZM361.65 315.91H367.62V317.90H361.65ZM359.66 317.90H365.63V319.89H359.66ZM357.67 319.89H363.64V321.88H357.67ZM373.59 319.89H373.90V321.88H373.59ZM355.68 321.88H361.65V323.87H355.68ZM371.60 321.88H373.90V323.87H371.60ZM354.40 323.87H359.66V325.86H354.40ZM369.61 323.87H373.90V325.86H369.61ZM354.40 325.86H357.67V327.85H354.40ZM367.62 325.86H373.59V327.85H367.62ZM354.40 327.85H355.68V329.84H354.40ZM365.63 327.85H371.60V329.84H365.63ZM363.64 329.84H369.61V331.83H363.64ZM361.65 331.83H367.62V333.82H361.65ZM359.66 333.82H365.63V335.81H359.66ZM357.67 335.81H363.64V337.80H357.67ZM373.59 335.81H373.90V337.80H373.59ZM355.68 337.80H361.65V339.79H355.68ZM371.60 337.80H373.90V339.79H371.60ZM354.40 339.79H359.66V341.78H354.40ZM369.61 339.79H373.90V341.78H369.61ZM354.40 341.78H357.67V343.77H354.40ZM367.62 341.78H373.59V343.77H367.62ZM354.40 343.77H355.68V345.30H354.40ZM365.63 343.77H371.60V345.30H365.63ZM447.22 200.39H453.19V200.49H447.22ZM445.23 200.49H451.20V202.48H445.23ZM461.15 200.49H461.70V202.48H461.15ZM443.24 202.48H449.21V204.47H443.24ZM459.16 202.48H461.70V204.47H459.16ZM442.20 204.47H447.22V206.46H442.20ZM457.17 204.47H461.70V206.46H457.17ZM442.20 206.46H445.23V208.45H442.20ZM455.18 206.46H461.15V208.45H455.18ZM442.20 208.45H443.24V210.44H442.20ZM453.19 208.45H459.16V210.44H453.19ZM451.20 210.44H457.17V212.43H451.20ZM449.21 212.43H455.18V214.42H449.21ZM447.22 214.42H453.19V216.41H447.22ZM445.23 216.41H451.20V218.40H445.23ZM461.15 216.41H461.70V218.40H461.15ZM443.24 218.40H449.21V220.39H443.24ZM459.16 218.40H461.70V220.39H459.16ZM442.20 220.39H447.22V222.38H442.20ZM457.17 220.39H461.70V222.38H457.17ZM442.20 222.38H445.23V224.37H442.20ZM455.18 222.38H461.15V224.37H455.18ZM442.20 224.37H443.24V226.36H442.20ZM453.19 224.37H459.16V226.36H453.19ZM451.20 226.36H457.17V228.35H451.20ZM449.21 228.35H455.18V230.34H449.21ZM447.22 230.34H453.19V232.33H447.22ZM445.23 232.33H451.20V234.32H445.23ZM461.15 232.33H461.70V234.32H461.15ZM443.24 234.32H449.21V236.31H443.24ZM459.16 234.32H461.70V236.31H459.16ZM442.20 236.31H447.22V238.30H442.20ZM457.17 236.31H461.70V238.30H457.17ZM442.20 238.30H445.23V240.29H442.20ZM455.18 238.30H461.15V240.29H455.18ZM442.20 240.29H443.24V242.28H442.20ZM453.19 240.29H459.16V242.28H453.19ZM451.20 242.28H457.17V244.27H451.20ZM449.21 244.27H455.18V246.26H449.21ZM447.22 246.26H453.19V248.25H447.22ZM445.23 248.25H451.20V250.24H445.23ZM461.15 248.25H461.70V250.24H461.15ZM443.24 250.24H449.21V252.23H443.24ZM459.16 250.24H461.70V252.23H459.16ZM442.20 252.23H447.22V254.22H442.20ZM457.17 252.23H461.70V254.22H457.17ZM442.20 254.22H445.23V256.21H442.20ZM455.18 254.22H461.15V256.21H455.18ZM442.20 256.21H443.24V258.20H442.20ZM453.19 256.21H459.16V258.20H453.19ZM451.20 258.20H457.17V260.19H451.20ZM449.21 260.19H455.18V262.18H449.21ZM447.22 262.18H453.19V264.17H447.22ZM445.23 264.17H451.20V266.16H445.23ZM461.15 264.17H461.70V266.16H461.15ZM443.24 266.16H449.21V268.15H443.24ZM459.16 266.16H461.70V268.15H459.16ZM442.20 268.15H447.22V270.14H442.20ZM457.17 268.15H461.70V270.14H457.17ZM442.20 270.14H445.23V272.13H442.20ZM455.18 270.14H461.15V272.13H455.18ZM442.20 272.13H443.24V274.12H442.20ZM453.19 272.13H459.16V274.12H453.19ZM451.20 274.12H457.17V276.11H451.20ZM449.21 276.11H455.18V278.10H449.21ZM447.22 278.10H453.19V280.09H447.22ZM445.23 280.09H451.20V282.08H445.23ZM461.15 280.09H461.70V282.08H461.15ZM443.24 282.08H449.21V284.07H443.24ZM459.16 282.08H461.70V284.07H459.16ZM442.20 284.07H447.22V286.06H442.20ZM457.17 284.07H461.70V286.06H457.17ZM442.20 286.06H445.23V288.05H442.20ZM455.18 286.06H461.15V288.05H455.18ZM442.20 288.05H443.24V290.04H442.20ZM453.19 288.05H459.16V290.04H453.19ZM451.20 290.04H457.17V292.03H451.20ZM449.21 292.03H455.18V294.02H449.21ZM447.22 294.02H453.19V296.01H447.22ZM445.23 296.01H451.20V298.00H445.23ZM461.15 296.01H461.70V298.00H461.15ZM443.24 298.00H449.21V299.99H443.24ZM459.16 298.00H461.70V299.99H459.16ZM442.20 299.99H447.22V301.98H442.20ZM457.17 299.99H461.70V301.98H457.17ZM442.20 301.98H445.23V303.97H442.20ZM455.18 301.98H461.15V303.97H455.18ZM442.20 303.97H443.24V305.96H442.20ZM453.19 303.97H459.16V305.96H453.19ZM451.20 305.96H457.17V307.95H451.20ZM449.21 307.95H455.18V309.94H449.21ZM447.22 309.94H453.19V311.93H447.22ZM445.23 311.93H451.20V313.92H445.23ZM461.15 311.93H461.70V313.92H461.15ZM443.24 313.92H449.21V315.91H443.24ZM459.16 313.92H461.70V315.91H459.16ZM442.20 315.91H447.22V317.90H442.20ZM457.17 315.91H461.70V317.90H457.17ZM442.20 317.90H445.23V319.89H442.20ZM455.18 317.90H461.15V319.89H455.18ZM442.20 319.89H443.24V321.88H442.20ZM453.19 319.89H459.16V321.88H453.19ZM451.20 321.88H457.17V323.87H451.20ZM449.21 323.87H455.18V325.86H449.21ZM447.22 325.86H453.19V327.85H447.22ZM445.23 327.85H451.20V329.84H445.23ZM461.15 327.85H461.70V329.84H461.15ZM443.24 329.84H449.21V331.83H443.24ZM459.16 329.84H461.70V331.83H459.16ZM442.20 331.83H447.22V333.82H442.20ZM457.17 331.83H461.70V333.82H457.17ZM442.20 333.82H445.23V335.81H442.20ZM455.18 333.82H461.15V335.81H455.18ZM442.20 335.81H443.24V337.80H442.20ZM453.19 335.81H459.16V337.80H453.19ZM451.20 337.80H457.17V339.79H451.20ZM449.21 339.79H455.18V341.78H449.21ZM447.22 341.78H453.19V343.77H447.22ZM445.23 343.77H451.20V345.30H445.23ZM461.15 343.77H461.70V345.30H461.15ZM534.78 271.16H540.75V272.13H534.78ZM532.79 272.13H538.76V274.12H532.79ZM548.71 272.13H549.50V274.12H548.71ZM530.80 274.12H536.77V276.11H530.80ZM546.72 274.12H549.50V276.11H546.72ZM530.00 276.11H534.78V278.10H530.00ZM544.73 276.11H549.50V278.10H544.73ZM530.00 278.10H532.79V280.09H530.00ZM542.74 278.10H548.71V280.09H542.74ZM530.00 280.09H530.80V282.08H530.00ZM540.75 280.09H546.72V282.08H540.75ZM538.76 282.08H544.73V284.07H538.76ZM536.77 284.07H542.74V286.06H536.77ZM534.78 286.06H540.75V288.05H534.78ZM532.79 288.05H538.76V290.04H532.79ZM548.71 288.05H549.50V290.04H548.71ZM530.80 290.04H536.77V292.03H530.80ZM546.72 290.04H549.50V292.03H546.72ZM530.00 292.03H534.78V294.02H530.00ZM544.73 292.03H549.50V294.02H544.73ZM530.00 294.02H532.79V296.01H530.00ZM542.74 294.02H548.71V296.01H542.74ZM530.00 296.01H530.80V298.00H530.00ZM540.75 296.01H546.72V298.00H540.75ZM538.76 298.00H544.73V299.99H538.76ZM536.77 299.99H542.74V301.98H536.77ZM534.78 301.98H540.75V303.97H534.78ZM532.79 303.97H538.76V305.96H532.79ZM548.71 303.97H549.50V305.96H548.71ZM530.80 305.96H536.77V307.95H530.80ZM546.72 305.96H549.50V307.95H546.72ZM530.00 307.95H534.78V309.94H530.00ZM544.73 307.95H549.50V309.94H544.73ZM530.00 309.94H532.79V311.93H530.00ZM542.74 309.94H548.71V311.93H542.74ZM530.00 311.93H530.80V313.92H530.00ZM540.75 311.93H546.72V313.92H540.75ZM538.76 313.92H544.73V315.91H538.76ZM536.77 315.91H542.74V317.90H536.77ZM534.78 317.90H540.75V319.89H534.78ZM532.79 319.89H538.76V321.88H532.79ZM548.71 319.89H549.50V321.88H548.71ZM530.80 321.88H536.77V323.87H530.80ZM546.72 321.88H549.50V323.87H546.72ZM530.00 323.87H534.78V325.86H530.00ZM544.73 323.87H549.50V325.86H544.73ZM530.00 325.86H532.79V327.85H530.00ZM542.74 325.86H548.71V327.85H542.74ZM530.00 327.85H530.80V329.84H530.00ZM540.75 327.85H546.72V329.84H540.75ZM538.76 329.84H544.73V331.83H538.76ZM536.77 331.83H542.74V333.82H536.77ZM534.78 333.82H540.75V335.81H534.78ZM532.79 335.81H538.76V337.80H532.79ZM548.71 335.81H549.50V337.80H548.71ZM530.80 337.80H536.77V339.79H530.80ZM546.72 337.80H549.50V339.79H546.72ZM530.00 339.79H534.78V341.78H530.00ZM544.73 339.79H549.50V341.78H544.73ZM530.00 341.78H532.79V343.77H530.00ZM542.74 341.78H548.71V343.77H542.74ZM530.00 343.77H530.80V345.30H530.00ZM540.75 343.77H546.72V345.30H540.75ZM624.33 325.08H630.30V325.86H624.33ZM622.34 325.86H628.31V327.85H622.34ZM620.35 327.85H626.32V329.84H620.35ZM636.27 327.85H637.30V329.84H636.27ZM618.36 329.84H624.33V331.83H618.36ZM634.28 329.84H637.30V331.83H634.28ZM617.80 331.83H622.34V333.82H617.80ZM632.29 331.83H637.30V333.82H632.29ZM617.80 333.82H620.35V335.81H617.80ZM630.30 333.82H636.27V335.81H630.30ZM617.80 335.81H618.36V337.80H617.80ZM628.31 335.81H634.28V337.80H628.31ZM626.32 337.80H632.29V339.79H626.32ZM624.33 339.79H630.30V341.78H624.33ZM622.34 341.78H628.31V343.77H622.34ZM620.35 343.77H626.32V345.30H620.35ZM636.27 343.77H637.30V345.30H636.27Z" fill="#2f5597" shape-rendering="crispEdges"/>
<path d="M116.15 25.15H118.87V25.37H116.15ZM128.82 25.15H134.79V25.37H128.82ZM116.15 25.37H116.88V27.36H116.15ZM126.83 25.37H132.80V27.36H126.83ZM124.84 27.36H130.81V29.35H124.84ZM122.85 29.35H128.82V31.34H122.85ZM120.86 31.34H126.83V33.33H120.86ZM118.87 33.33H124.84V35.32H118.87ZM134.79 33.33H135.65V35.32H134.79ZM116.88 35.32H122.85V37.31H116.88ZM132.80 35.32H135.65V37.31H132.80ZM116.15 37.31H120.86V39.30H116.15ZM130.81 37.31H135.65V39.30H130.81ZM116.15 39.30H118.87V41.29H116.15ZM128.82 39.30H134.79V41.29H128.82ZM116.15 41.29H116.88V43.28H116.15ZM126.83 41.29H132.80V43.28H126.83ZM124.84 43.28H130.81V45.27H124.84ZM122.85 45.27H128.82V47.26H122.85ZM120.86 47.26H126.83V49.25H120.86ZM118.87 49.25H124.84V51.24H118.87ZM134.79 49.25H135.65V51.24H134.79ZM116.88 51.24H122.85V53.23H116.88ZM132.80 51.24H135.65V53.23H132.80ZM116.15 53.23H120.86V55.22H116.15ZM130.81 53.23H135.65V55.22H130.81ZM116.15 55.22H118.87V57.21H116.15ZM128.82 55.22H134.79V57.21H128.82ZM116.15 57.21H116.88V59.20H116.15ZM126.83 57.21H132.80V59.20H126.83ZM124.84 59.20H130.81V61.19H124.84ZM122.85 61.19H128.82V63.18H122.85ZM120.86 63.18H126.83V65.17H120.86ZM118.87 65.17H124.84V67.16H118.87ZM134.79 65.17H135.65V67.16H134.79ZM116.88 67.16H122.85V69.15H116.88ZM132.80 67.16H135.65V69.15H132.80ZM116.15 69.15H120.86V71.14H116.15ZM130.81 69.15H135.65V71.14H130.81ZM116.15 71.14H118.87V73.13H116.15ZM128.82 71.14H134.79V73.13H128.82ZM116.15 73.13H116.88V75.12H116.15ZM126.83 73.13H132.80V75.12H126.83ZM124.84 75.12H130.81V77.11H124.84ZM122.85 77.11H128.82V79.10H122.85ZM120.86 79.10H126.83V81.09H120.86ZM118.87 81.09H124.84V83.08H118.87ZM134.79 81.09H135.65V83.08H134.79ZM116.88 83.08H122.85V85.07H116.88ZM132.80 83.08H135.65V85.07H132.80ZM116.15 85.07H120.86V87.06H116.15ZM130.81 85.07H135.65V87.06H130.81ZM116.15 87.06H118.87V89.05H116.15ZM128.82 87.06H134.79V89.05H128.82ZM116.15 89.05H116.88V91.04H116.15ZM126.83 89.05H132.80V91.04H126.83ZM124.84 91.04H130.81V93.03H124.84ZM122.85 93.03H128.82V95.02H122.85ZM120.86 95.02H126.83V97.01H120.86ZM118.87 97.01H124.84V99.00H118.87ZM134.79 97.01H135.65V99.00H134.79ZM116.88 99.00H122.85V100.99H116.88ZM132.80 99.00H135.65V100.99H132.80ZM116.15 100.99H120.86V102.98H116.15ZM130.81 100.99H135.65V102.98H130.81ZM116.15 102.98H118.87V104.97H116.15ZM128.82 102.98H134.79V104.97H128.82ZM116.15 104.97H116.88V106.96H116.15ZM126.83 104.97H132.80V106.96H126.83ZM124.84 106.96H130.81V108.95H124.84ZM122.85 108.95H128.82V110.94H122.85ZM120.86 110.94H126.83V112.93H120.86ZM118.87 112.93H124.84V114.92H118.87ZM134.79 112.93H135.65V114.92H134.79ZM116.88 114.92H122.85V116.91H116.88ZM132.80 114.92H135.65V116.91H132.80ZM116.15 116.91H120.86V118.90H116.15ZM130.81 116.91H135.65V118.90H130.81ZM116.15 118.90H118.87V120.89H116.15ZM128.82 118.90H134.79V120.89H128.82ZM116.15 120.89H116.88V122.88H116.15ZM126.83 120.89H132.80V122.88H126.83ZM124.84 122.88H130.81V124.87H124.84ZM122.85 124.87H128.82V126.86H122.85ZM120.86 126.86H126.83V128.85H120.86ZM118.87 128.85H124.84V130.84H118.87ZM134.79 128.85H135.65V130.84H134.79ZM116.88 130.84H122.85V132.83H116.88ZM132.80 130.84H135.65V132.83H132.80ZM116.15 132.83H120.86V134.82H116.15ZM130.81 132.83H135.65V134.82H130.81ZM116.15 134.82H118.87V136.81H116.15ZM128.82 134.82H134.79V136.81H128.82ZM116.15 136.81H116.88V138.80H116.15ZM126.83 136.81H132.80V138.80H126.83ZM124.84 138.80H130.81V140.79H124.84ZM122.85 140.79H128.82V142.78H122.85ZM120.86 142.78H126.83V144.77H120.86ZM118.87 144.77H124.84V146.76H118.87ZM134.79 144.77H135.65V146.76H134.79ZM116.88 146.76H122.85V148.75H116.88ZM132.80 146.76H135.65V148.75H132.80ZM116.15 148.75H120.86V150.74H116.15ZM130.81 148.75H135.65V150.74H130.81ZM116.15 150.74H118.87V152.73H116.15ZM128.82 150.74H134.79V152.73H128.82ZM116.15 152.73H116.88V154.72H116.15ZM126.83 152.73H132.80V154.72H126.83ZM124.84 154.72H130.81V156.71H124.84ZM122.85 156.71H128.82V158.70H122.85ZM120.86 158.70H126.83V160.69H120.86ZM118.87 160.69H124.84V162.68H118.87ZM134.79 160.69H135.65V162.68H134.79ZM116.88 162.68H122.85V164.67H116.88ZM132.80 162.68H135.65V164.67H132.80ZM116.15 164.67H120.86V166.66H116.15ZM130.81 164.67H135.65V166.66H130.81ZM116.15 166.66H118.87V168.65H116.15ZM128.82 166.66H134.79V168.65H128.82ZM116.15 168.65H116.88V170.64H116.15ZM126.83 168.65H132.80V170.64H126.83ZM124.84 170.64H130.81V172.63H124.84ZM122.85 172.63H128.82V174.62H122.85ZM120.86 174.62H126.83V176.61H120.86ZM118.87 176.61H124.84V178.60H118.87ZM134.79 176.61H135.65V178.60H134.79ZM116.88 178.60H122.85V180.59H116.88ZM132.80 178.60H135.65V180.59H132.80ZM116.15 180.59H120.86V182.58H116.15ZM130.81 180.59H135.65V182.58H130.81ZM116.15 182.58H118.87V184.57H116.15ZM128.82 182.58H134.79V184.57H128.82ZM116.15 184.57H116.88V186.56H116.15ZM126.83 184.57H132.80V186.56H126.83ZM124.84 186.56H130.81V188.55H124.84ZM122.85 188.55H128.82V190.54H122.85ZM120.86 190.54H126.83V192.53H120.86ZM118.87 192.53H124.84V194.52H118.87ZM134.79 192.53H135.65V194.52H134.79ZM116.88 194.52H122.85V196.51H116.88ZM132.80 194.52H135.65V196.51H132.80ZM116.15 196.51H120.86V198.50H116.15ZM130.81 196.51H135.65V198.50H130.81ZM116.15 198.50H118.87V200.49H116.15ZM128.82 198.50H134.79V200.49H128.82ZM116.15 200.49H116.88V202.48H116.15ZM126.83 200.49H132.80V202.48H126.83ZM124.84 202.48H130.81V204.47H124.84ZM122.85 204.47H128.82V206.46H122.85ZM120.86 206.46H126.83V208.45H120.86ZM118.87 208.45H124.84V210.44H118.87ZM134.79 208.45H135.65V210.44H134.79ZM116.88 210.44H122.85V212.43H116.88ZM132.80 210.44H135.65V212.43H132.80ZM116.15 212.43H120.86V214.42H116.15ZM130.81 212.43H135.65V214.42H130.81ZM116.15 214.42H118.87V216.41H116.15ZM128.82 214.42H134.79V216.41H128.82ZM116.15 216.41H116.88V218.40H116.15ZM126.83 216.41H132.80V218.40H126.83ZM124.84 218.40H130.81V220.39H124.84ZM122.85 220.39H128.82V222.38H122.85ZM120.86 222.38H126.83V224.37H120.86ZM118.87 224.37H124.84V226.36H118.87ZM134.79 224.37H135.65V226.36H134.79ZM116.88 226.36H122.85V228.35H116.88ZM132.80 226.36H135.65V228.35H132.80ZM116.15 228.35H120.86V230.34H116.15ZM130.81 228.35H135.65V230.34H130.81ZM116.15 230.34H118.87V232.33H116.15ZM128.82 230.34H134.79V232.33H128.82ZM116.15 232.33H116.88V234.32H116.15ZM126.83 232.33H132.80V234.32H126.83ZM124.84 234.32H130.81V236.31H124.84ZM122.85 236.31H128.82V238.30H122.85ZM120.86 238.30H126.83V240.29H120.86ZM118.87 240.29H124.84V242.28H118.87ZM134.79 240.29H135.65V242.28H134.79ZM116.88 242.28H122.85V244.27H116.88ZM132.80 242.28H135.65V244.27H132.80ZM116.15 244.27H120.86V246.26H116.15ZM130.81 244.27H135.65V246.26H130.81ZM116.15 246.26H118.87V248.25H116.15ZM128.82 246.26H134.79V248.25H128.82ZM116.15 248.25H116.88V250.24H116.15ZM126.83 248.25H132.80V250.24H126.83ZM124.84 250.24H130.81V252.23H124.84ZM122.85 252.23H128.82V254.22H122.85ZM120.86 254.22H126.83V256.21H120.86ZM118.87 256.21H124.84V258.20H118.87ZM134.79 256.21H135.65V258.20H134.79ZM116.88 258.20H122.85V260.19H116.88ZM132.80 258.20H135.65V260.19H132.80ZM116.15 260.19H120.86V262.18H116.15ZM130.81 260.19H135.65V262.18H130.81ZM116.15 262.18H118.87V264.17H116.15ZM128.82 262.18H134.79V264.17H128.82ZM116.15 264.17H116.88V266.16H116.15ZM126.83 264.17H132.80V266.16H126.83ZM124.84 266.16H130.81V268.15H124.84ZM122.85 268.15H128.82V270.14H122.85ZM120.86 270.14H126.83V272.13H120.86ZM118.87 272.13H124.84V274.12H118.87ZM134.79 272.13H135.65V274.12H134.79ZM116.88 274.12H122.85V276.11H116.88ZM132.80 274.12H135.65V276.11H132.80ZM116.15 276.11H120.86V278.10H116.15ZM130.81 276.11H135.65V278.10H130.81ZM116.15 278.10H118.87V280.09H116.15ZM128.82 278.10H134.79V280.09H128.82ZM116.15 280.09H116.88V282.08H116.15ZM126.83 280.09H132.80V282.08H126.83ZM124.84 282.08H130.81V284.07H124.84ZM122.85 284.07H128.82V286.06H122.85ZM120.86 286.06H126.83V288.05H120.86ZM118.87 288.05H124.84V290.04H118.87ZM134.79 288.05H135.65V290.04H134.79ZM116.88 290.04H122.85V292.03H116.88ZM132.80 290.04H135.65V292.03H132.80ZM116.15 292.03H120.86V294.02H116.15ZM130.81 292.03H135.65V294.02H130.81ZM116.15 294.02H118.87V296.01H116.15ZM128.82 294.02H134.79V296.01H128.82ZM116.15 296.01H116.88V298.00H116.15ZM126.83 296.01H132.80V298.00H126.83ZM124.84 298.00H130.81V299.99H124.84ZM122.85 299.99H128.82V301.98H122.85ZM120.86 301.98H126.83V303.97H120.86ZM118.87 303.97H124.84V305.96H118.87ZM134.79 303.97H135.65V305.96H134.79ZM116.88 305.96H122.85V307.95H116.88ZM132.80 305.96H135.65V307.95H132.80ZM116.15 307.95H120.86V309.94H116.15ZM130.81 307.95H135.65V309.94H130.81ZM116.15 309.94H118.87V311.93H116.15ZM128.82 309.94H134.79V311.93H128.82ZM116.15 311.93H116.88V313.92H116.15ZM126.83 311.93H132.80V313.92H126.83ZM124.84 313.92H130.81V315.91H124.84ZM122.85 315.91H128.82V317.90H122.85ZM120.86 317.90H126.83V319.89H120.86ZM118.87 319.89H124.84V321.88H118.87ZM134.79 319.89H135.65V321.88H134.79ZM116.88 321.88H122.85V323.87H116.88ZM132.80 321.88H135.65V323.87H132.80ZM116.15 323.87H120.86V325.86H116.15ZM130.81 323.87H135.65V325.86H130.81ZM116.15 325.86H118.87V327.85H116.15ZM128.82 325.86H134.79V327.85H128.82ZM116.15 327.85H116.88V329.84H116.15ZM126.83 327.85H132.80V329.84H126.83ZM124.84 329.84H130.81V331.83H124.84ZM122.85 331.83H128.82V333.82H122.85ZM120.86 333.82H126.83V335.81H120.86ZM118.87 335.81H124.84V337.80H118.87ZM134.79 335.81H135.65V337.80H134.79ZM116.88 337.80H122.85V339.79H116.88ZM132.80 337.80H135.65V339.79H132.80ZM116.15 339.79H120.86V341.78H116.15ZM130.81 339.79H135.65V341.78H130.81ZM116.15 341.78H118.87V343.77H116.15ZM128.82 341.78H134.79V343.77H128.82ZM116.15 343.77H116.88V345.30H116.15ZM126.83 343.77H132.80V345.30H126.83ZM203.95 82.44H204.44V83.08H203.95ZM214.39 82.44H220.36V83.08H214.39ZM212.40 83.08H218.37V85.07H212.40ZM210.41 85.07H216.38V87.06H210.41ZM208.42 87.06H214.39V89.05H208.42ZM206.43 89.05H212.40V91.04H206.43ZM222.35 89.05H223.45V91.04H222.35ZM204.44 91.04H210.41V93.03H204.44ZM220.36 91.04H223.45V93.03H220.36ZM203.95 93.03H208.42V95.02H203.95ZM218.37 93.03H223.45V95.02H218.37ZM203.95 95.02H206.43V97.01H203.95ZM216.38 95.02H222.35V97.01H216.38ZM203.95 97.01H204.44V99.00H203.95ZM214.39 97.01H220.36V99.00H214.39ZM212.40 99.00H218.37V100.99H212.40ZM210.41 100.99H216.38V102.98H210.41ZM208.42 102.98H214.39V104.97H208.42ZM206.43 104.97H212.40V106.96H206.43ZM222.35 104.97H223.45V106.96H222.35ZM204.44 106.96H210.41V108.95H204.44ZM220.36 106.96H223.45V108.95H220.36ZM203.95 108.95H208.42V110.94H203.95ZM218.37 108.95H223.45V110.94H218.37ZM203.95 110.94H206.43V112.93H203.95ZM216.38 110.94H222.35V112.93H216.38ZM203.95 112.93H204.44V114.92H203.95ZM214.39 112.93H220.36V114.92H214.39ZM212.40 114.92H218.37V116.91H212.40ZM210.41 116.91H216.38V118.90H210.41ZM208.42 118.90H214.39V120.89H208.42ZM206.43 120.89H212.40V122.88H206.43ZM222.35 120.89H223.45V122.88H222.35ZM204.44 122.88H210.41V124.87H204.44ZM220.36 122.88H223.45V124.87H220.36ZM203.95 124.87H208.42V126.86H203.95ZM218.37 124.87H223.45V126.86H218.37ZM203.95 126.86H206.43V128.85H203.95ZM216.38 126.86H222.35V128.85H216.38ZM203.95 128.85H204.44V130.84H203.95ZM214.39 128.85H220.36V130.84H214.39ZM212.40 130.84H218.37V132.83H212.40ZM210.41 132.83H216.38V134.82H210.41ZM208.42 134.82H214.39V136.81H208.42ZM206.43 136.81H212.40V138.80H206.43ZM222.35 136.81H223.45V138.80H222.35ZM204.44 138.80H210.41V140.79H204.44ZM220.36 138.80H223.45V140.79H220.36ZM203.95 140.79H208.42V142.78H203.95ZM218.37 140.79H223.45V142.78H218.37ZM203.95 142.78H206.43V144.77H203.95ZM216.38 142.78H222.35V144.77H216.38ZM203.95 144.77H204.44V146.76H203.95ZM214.39 144.77H220.36V146.76H214.39ZM212.40 146.76H218.37V148.75H212.40ZM210.41 148.75H216.38V150.74H210.41ZM208.42 150.74H214.39V152.73H208.42ZM206.43 152.73H212.40V154.72H206.43ZM222.35 152.73H223.45V154.72H222.35ZM204.44 154.72H210.41V156.71H204.44ZM220.36 154.72H223.45V156.71H220.36ZM203.95 156.71H208.42V158.70H203.95ZM218.37 156.71H223.45V158.70H218.37ZM203.95 158.70H206.43V160.69H203.95ZM216.38 158.70H222.35V160.69H216.38ZM203.95 160.69H204.44V162.68H203.95ZM214.39 160.69H220.36V162.68H214.39ZM212.40 162.68H218.37V164.67H212.40ZM210.41 164.67H216.38V166.66H210.41ZM208.42 166.66H214.39V168.65H208.42ZM206.43 168.65H212.40V170.64H206.43ZM222.35 168.65H223.45V170.64H222.35ZM204.44 170.64H210.41V172.63H204.44ZM220.36 170.64H223.45V172.63H220.36ZM203.95 172.63H208.42V174.62H203.95ZM218.37 172.63H223.45V174.62H218.37ZM203.95 174.62H206.43V176.61H203.95ZM216.38 174.62H222.35V176.61H216.38ZM203.95 176.61H204.44V178.60H203.95ZM214.39 176.61H220.36V178.60H214.39ZM212.40 178.60H218.37V180.59H212.40ZM210.41 180.59H216.38V182.58H210.41ZM208.42 182.58H214.39V184.57H208.42ZM206.43 184.57H212.40V186.56H206.43ZM222.35 184.57H223.45V186.56H222.35ZM204.44 186.56H210.41V188.55H204.44ZM220.36 186.56H223.45V188.55H220.36ZM203.95 188.55H208.42V190.54H203.95ZM218.37 188.55H223.45V190.54H218.37ZM203.95 190.54H206.43V192.53H203.95ZM216.38 190.54H222.35V192.53H216.38ZM203.95 192.53H204.44V194.52H203.95ZM214.39 192.53H220.36V194.52H214.39ZM212.40 194.52H218.37V196.51H212.40ZM210.41 196.51H216.38V198.50H210.41ZM208.42 198.50H214.39V200.49H208.42ZM206.43 200.49H212.40V202.48H206.43ZM222.35 200.49H223.45V202.48H222.35ZM204.44 202.48H210.41V204.47H204.44ZM220.36 202.48H223.45V204.47H220.36ZM203.95 204.47H208.42V206.46H203.95ZM218.37 204.47H223.45V206.46H218.37ZM203.95 206.46H206.43V208.45H203.95ZM216.38 206.46H222.35V208.45H216.38ZM203.95 208.45H204.44V210.44H203.95ZM214.39 208.45H220.36V210.44H214.39ZM212.40 210.44H218.37V212.43H212.40ZM210.41 212.43H216.38V214.42H210.41ZM208.42 214.42H214.39V216.41H208.42ZM206.43 216.41H212.40V218.40H206.43ZM222.35 216.41H223.45V218.40H222.35ZM204.44 218.40H210.41V220.39H204.44ZM220.36 218.40H223.45V220.39H220.36ZM203.95 220.39H208.42V222.38H203.95ZM218.37 220.39H223.45V222.38H218.37ZM203.95 222.38H206.43V224.37H203.95ZM216.38 222.38H222.35V224.37H216.38ZM203.95 224.37H204.44V226.36H203.95ZM214.39 224.37H220.36V226.36H214.39ZM212.40 226.36H218.37V228.35H212.40ZM210.41 228.35H216.38V230.34H210.41ZM208.42 230.34H214.39V232.33H208.42ZM206.43 232.33H212.40V234.32H206.43ZM222.35 232.33H223.45V234.32H222.35ZM204.44 234.32H210.41V236.31H204.44ZM220.36 234.32H223.45V236.31H220.36ZM203.95 236.31H208.42V238.30H203.95ZM218.37 236.31H223.45V238.30H218.37ZM203.95 238.30H206.43V240.29H203.95ZM216.38 238.30H222.35V240.29H216.38ZM203.95 240.29H204.44V242.28H203.95ZM214.39 240.29H220.36V242.28H214.39ZM212.40 242.28H218.37V244.27H212.40ZM210.41 244.27H216.38V246.26H210.41ZM208.42 246.26H214.39V248.25H208.42ZM206.43 248.25H212.40V250.24H206.43ZM222.35 248.25H223.45V250.24H222.35ZM204.44 250.24H210.41V252.23H204.44ZM220.36 250.24H223.45V252.23H220.36ZM203.95 252.23H208.42V254.22H203.95ZM218.37 252.23H223.45V254.22H218.37ZM203.95 254.22H206.43V256.21H203.95ZM216.38 254.22H222.35V256.21H216.38ZM203.95 256.21H204.44V258.20H203.95ZM214.39 256.21H220.36V258.20H214.39ZM212.40 258.20H218.37V260.19H212.40ZM210.41 260.19H216.38V262.18H210.41ZM208.42 262.18H214.39V264.17H208.42ZM206.43 264.17H212.40V266.16H206.43ZM222.35 264.17H223.45V266.16H222.35ZM204.44 266.16H210.41V268.15H204.44ZM220.36 266.16H223.45V268.15H220.36ZM203.95 268.15H208.42V270.14H203.95ZM218.37 268.15H223.45V270.14H218.37ZM203.95 270.14H206.43V272.13H203.95ZM216.38 270.14H222.35V272.13H216.38ZM203.95 272.13H204.44V274.12H203.95ZM214.39 272.13H220.36V274.12H214.39ZM212.40 274.12H218.37V276.11H212.40ZM210.41 276.11H216.38V278.10H210.41ZM208.42 278.10H214.39V280.09H208.42ZM206.43 280.09H212.40V282.08H206.43ZM222.35 280.09H223.45V282.08H222.35ZM204.44 282.08H210.41V284.07H204.44ZM220.36 282.08H223.45V284.07H220.36ZM203.95 284.07H208.42V286.06H203.95ZM218.37 284.07H223.45V286.06H218.37ZM203.95 286.06H206.43V288.05H203.95ZM216.38 286.06H222.35V288.05H216.38ZM203.95 288.05H204.44V290.04H203.95ZM214.39 288.05H220.36V290.04H214.39ZM212.40 290.04H218.37V292.03H212.40ZM210.41 292.03H216.38V294.02H210.41ZM208.42 294.02H214.39V296.01H208.42ZM206.43 296.01H212.40V298.00H206.43ZM222.35 296.01H223.45V298.00H222.35ZM204.44 298.00H210.41V299.99H204.44ZM220.36 298.00H223.45V299.99H220.36ZM203.95 299.99H208.42V301.98H203.95ZM218.37 299.99H223.45V301.98H218.37ZM203.95 301.98H206.43V303.97H203.95ZM216.38 301.98H222.35V303.97H216.38ZM203.95 303.97H204.44V305.96H203.95ZM214.39 303.97H220.36V305.96H214.39ZM212.40 305.96H218.37V307.95H212.40ZM210.41 307.95H216.38V309.94H210.41ZM208.42 309.94H214.39V311.93H208.42ZM206.43 311.93H212.40V313.92H206.43ZM222.35 311.93H223.45V313.92H222.35ZM204.44 313.92H210.41V315.91H204.44ZM220.36 313.92H223.45V315.91H220.36ZM203.95 315.91H208.42V317.90H203.95ZM218.37 315.91H223.45V317.90H218.37ZM203.95 317.90H206.43V319.89H203.95ZM216.38 317.90H222.35V319.89H216.38ZM203.95 319.89H204.44V321.88H203.95ZM214.39 319.89H220.36V321.88H214.39ZM212.40 321.88H218.37V323.87H212.40ZM210.41 323.87H216.38V325.86H210.41ZM208.42 325.86H214.39V327.85H208.42ZM206.43 327.85H212.40V329.84H206.43ZM222.35 327.85H223.45V329.84H222.35ZM204.44 329.84H210.41V331.83H204.44ZM220.36 329.84H223.45V331.83H220.36ZM203.95 331.83H208.42V333.82H203.95ZM218.37 331.83H223.45V333.82H218.37ZM203.95 333.82H206.43V335.81H203.95ZM216.38 333.82H222.35V335.81H216.38ZM203.95 335.81H204.44V337.80H203.95ZM214.39 335.81H220.36V337.80H214.39ZM212.40 337.80H218.37V339.79H212.40ZM210.41 339.79H216.38V341.78H210.41ZM208.42 341.78H214.39V343.77H208.42ZM206.43 343.77H212.40V345.30H206.43ZM222.35 343.77H223.45V345.30H222.35ZM291.75 136.36H293.99V136.81H291.75ZM303.94 136.36H309.91V136.81H303.94ZM291.75 136.81H292.00V138.80H291.75ZM301.95 136.81H307.92V138.80H301.95ZM299.96 138.80H305.93V140.79H299.96ZM297.97 140.79H303.94V142.78H297.97ZM295.98 142.78H301.95V144.77H295.98ZM293.99 144.77H299.96V146.76H293.99ZM309.91 144.77H311.25V146.76H309.91ZM292.00 146.76H297.97V148.75H292.00ZM307.92 146.76H311.25V148.75H307.92ZM291.75 148.75H295.98V150.74H291.75ZM305.93 148.75H311.25V150.74H305.93ZM291.75 150.74H293.99V152.73H291.75ZM303.94 150.74H309.91V152.73H303.94ZM291.75 152.73H292.00V154.72H291.75ZM301.95 152.73H307.92V154.72H301.95ZM299.96 154.72H305.93V156.71H299.96ZM297.97 156.71H303.94V158.70H297.97ZM295.98 158.70H301.95V160.69H295.98ZM293.99 160.69H299.96V162.68H293.99ZM309.91 160.69H311.25V162.68H309.91ZM292.00 162.68H297.97V164.67H292.00ZM307.92 162.68H311.25V164.67H307.92ZM291.75 164.67H295.98V166.66H291.75ZM305.93 164.67H311.25V166.66H305.93ZM291.75 166.66H293.99V168.65H291.75ZM303.94 166.66H309.91V168.65H303.94ZM291.75 168.65H292.00V170.64H291.75ZM301.95 168.65H307.92V170.64H301.95ZM299.96 170.64H305.93V172.63H299.96ZM297.97 172.63H303.94V174.62H297.97ZM295.98 174.62H301.95V176.61H295.98ZM293.99 176.61H299.96V178.60H293.99ZM309.91 176.61H311.25V178.60H309.91ZM292.00 178.60H297.97V180.59H292.00ZM307.92 178.60H311.25V180.59H307.92ZM291.75 180.59H295.98V182.58H291.75ZM305.93 180.59H311.25V182.58H305.93ZM291.75 182.58H293.99V184.57H291.75ZM303.94 182.58H309.91V184.57H303.94ZM291.75 184.57H292.00V186.56H291.75ZM301.95 184.57H307.92V186.56H301.95ZM299.96 186.56H305.93V188.55H299.96ZM297.97 188.55H303.94V190.54H297.97ZM295.98 190.54H301.95V192.53H295.98ZM293.99 192.53H299.96V194.52H293.99ZM309.91 192.53H311.25V194.52H309.91ZM292.00 194.52H297.97V196.51H292.00ZM307.92 194.52H311.25V196.51H307.92ZM291.75 196.51H295.98V198.50H291.75ZM305.93 196.51H311.25V198.50H305.93ZM291.75 198.50H293.99V200.49H291.75ZM303.94 198.50H309.91V200.49H303.94ZM291.75 200.49H292.00V202.48H291.75ZM301.95 200.49H307.92V202.48H301.95ZM299.96 202.48H305.93V204.47H299.96ZM297.97 204.47H303.94V206.46H297.97ZM295.98 206.46H301.95V208.45H295.98ZM293.99 208.45H299.96V210.44H293.99ZM309.91 208.45H311.25V210.44H309.91ZM292.00 210.44H297.97V212.43H292.00ZM307.92 210.44H311.25V212.43H307.92ZM291.75 212.43H295.98V214.42H291.75ZM305.93 212.43H311.25V214.42H305.93ZM291.75 214.42H293.99V216.41H291.75ZM303.94 214.42H309.91V216.41H303.94ZM291.75 216.41H292.00V218.40H291.75ZM301.95 216.41H307.92V218.40H301.95ZM299.96 218.40H305.93V220.39H299.96ZM297.97 220.39H303.94V222.38H297.97ZM295.98 222.38H301.95V224.37H295.98ZM293.99 224.37H299.96V226.36H293.99ZM309.91 224.37H311.25V226.36H309.91ZM292.00 226.36H297.97V228.35H292.00ZM307.92 226.36H311.25V228.35H307.92ZM291.75 228.35H295.98V230.34H291.75ZM305.93 228.35H311.25V230.34H305.93ZM291.75 230.34H293.99V232.33H291.75ZM303.94 230.34H309.91V232.33H303.94ZM291.75 232.33H292.00V234.32H291.75ZM301.95 232.33H307.92V234.32H301.95ZM299.96 234.32H305.93V236.31H299.96ZM297.97 236.31H303.94V238.30H297.97ZM295.98 238.30H301.95V240.29H295.98ZM293.99 240.29H299.96V242.28H293.99ZM309.91 240.29H311.25V242.28H309.91ZM292.00 242.28H297.97V244.27H292.00ZM307.92 242.28H311.25V244.27H307.92ZM291.75 244.27H295.98V246.26H291.75ZM305.93 244.27H311.25V246.26H305.93ZM291.75 246.26H293.99V248.25H291.75ZM303.94 246.26H309.91V248.25H303.94ZM291.75 248.25H292.00V250.24H291.75ZM301.95 248.25H307.92V250.24H301.95ZM299.96 250.24H305.93V252.23H299.96ZM297.97 252.23H303.94V254.22H297.97ZM295.98 254.22H301.95V256.21H295.98ZM293.99 256.21H299.96V258.20H293.99ZM309.91 256.21H311.25V258.20H309.91ZM292.00 258.20H297.97V260.19H292.00ZM307.92 258.20H311.25V260.19H307.92ZM291.75 260.19H295.98V262.18H291.75ZM305.93 260.19H311.25V262.18H305.93ZM291.75 262.18H293.99V264.17H291.75ZM303.94 262.18H309.91V264.17H303.94ZM291.75 264.17H292.00V266.16H291.75ZM301.95 264.17H307.92V266.16H301.95ZM299.96 266.16H305.93V268.15H299.96ZM297.97 268.15H303.94V270.14H297.97ZM295.98 270.14H301.95V272.13H295.98ZM293.99 272.13H299.96V274.12H293.99ZM309.91 272.13H311.25V274.12H309.91ZM292.00 274.12H297.97V276.11H292.00ZM307.92 274.12H311.25V276.11H307.92ZM291.75 276.11H295.98V278.10H291.75ZM305.93 276.11H311.25V278.10H305.93ZM291.75 278.10H293.99V280.09H291.75ZM303.94 278.10H309.91V280.09H303.94ZM291.75 280.09H292.00V282.08H291.75ZM301.95 280.09H307.92V282.08H301.95ZM299.96 282.08H305.93V284.07H299.96ZM297.97 284.07H303.94V286.06H297.97ZM295.98 286.06H301.95V288.05H295.98ZM293.99 288.05H299.96V290.04H293.99ZM309.91 288.05H311.25V290.04H309.91ZM292.00 290.04H297.97V292.03H292.00ZM307.92 290.04H311.25V292.03H307.92ZM291.75 292.03H295.98V294.02H291.75ZM305.93 292.03H311.25V294.02H305.93ZM291.75 294.02H293.99V296.01H291.75ZM303.94 294.02H309.91V296.01H303.94ZM291.75 296.01H292.00V298.00H291.75ZM301.95 296.01H307.92V298.00H301.95ZM299.96 298.00H305.93V299.99H299.96ZM297.97 299.99H303.94V301.98H297.97ZM295.98 301.98H301.95V303.97H295.98ZM293.99 303.97H299.96V305.96H293.99ZM309.91 303.97H311.25V305.96H309.91ZM292.00 305.96H297.97V307.95H292.00ZM307.92 305.96H311.25V307.95H307.92ZM291.75 307.95H295.98V309.94H291.75ZM305.93 307.95H311.25V309.94H305.93ZM291.75 309.94H293.99V311.93H291.75ZM303.94 309.94H309.91V311.93H303.94ZM291.75 311.93H292.00V313.92H291.75ZM301.95 311.93H307.92V313.92H301.95ZM299.96 313.92H305.93V315.91H299.96ZM297.97 315.91H303.94V317.90H297.97ZM295.98 317.90H301.95V319.89H295.98ZM293.99 319.89H299.96V321.88H293.99ZM309.91 319.89H311.25V321.88H309.91ZM292.00 321.88H297.97V323.87H292.00ZM307.92 321.88H311.25V323.87H307.92ZM291.75 323.87H295.98V325.86H291.75ZM305.93 323.87H311.25V325.86H305.93ZM291.75 325.86H293.99V327.85H291.75ZM303.94 325.86H309.91V327.85H303.94ZM291.75 327.85H292.00V329.84H291.75ZM301.95 327.85H307.92V329.84H301.95ZM299.96 329.84H305.93V331.83H299.96ZM297.97 331.83H303.94V333.82H297.97ZM295.98 333.82H301.95V335.81H295.98ZM293.99 335.81H299.96V337.80H293.99ZM309.91 335.81H311.25V337.80H309.91ZM292.00 337.80H297.97V339.79H292.00ZM307.92 337.80H311.25V339.79H307.92ZM291.75 339.79H295.98V341.78H291.75ZM305.93 339.79H311.25V341.78H305.93ZM291.75 341.78H293.99V343.77H291.75ZM303.94 341.78H309.91V343.77H303.94ZM291.75 343.77H292.00V345.30H291.75ZM301.95 343.77H307.92V345.30H301.95ZM379.55 207.13H381.55V208.45H379.55ZM391.50 207.13H397.47V208.45H391.50ZM379.55 208.45H379.56V210.44H379.55ZM389.51 208.45H395.48V210.44H389.51ZM387.52 210.44H393.49V212.43H387.52ZM385.53 212.43H391.50V214.42H385.53ZM383.54 214.42H389.51V216.41H383.54ZM381.55 216.41H387.52V218.40H381.55ZM397.47 216.41H399.05V218.40H397.47ZM379.56 218.40H385.53V220.39H379.56ZM395.48 218.40H399.05V220.39H395.48ZM379.55 220.39H383.54V222.38H379.55ZM393.49 220.39H399.05V222.38H393.49ZM379.55 222.38H381.55V224.37H379.55ZM391.50 222.38H397.47V224.37H391.50ZM379.55 224.37H379.56V226.36H379.55ZM389.51 224.37H395.48V226.36H389.51ZM387.52 226.36H393.49V228.35H387.52ZM385.53 228.35H391.50V230.34H385.53ZM383.54 230.34H389.51V232.33H383.54ZM381.55 232.33H387.52V234.32H381.55ZM397.47 232.33H399.05V234.32H397.47ZM379.56 234.32H385.53V236.31H379.56ZM395.48 234.32H399.05V236.31H395.48ZM379.55 236.31H383.54V238.30H379.55ZM393.49 236.31H399.05V238.30H393.49ZM379.55 238.30H381.55V240.29H379.55ZM391.50 238.30H397.47V240.29H391.50ZM379.55 240.29H379.56V242.28H379.55ZM389.51 240.29H395.48V242.28H389.51ZM387.52 242.28H393.49V244.27H387.52ZM385.53 244.27H391.50V246.26H385.53ZM383.54 246.26H389.51V248.25H383.54ZM381.55 248.25H387.52V250.24H381.55ZM397.47 248.25H399.05V250.24H397.47ZM379.56 250.24H385.53V252.23H379.56ZM395.48 250.24H399.05V252.23H395.48ZM379.55 252.23H383.54V254.22H379.55ZM393.49 252.23H399.05V254.22H393.49ZM379.55 254.22H381.55V256.21H379.55ZM391.50 254.22H397.47V256.21H391.50ZM379.55 256.21H379.56V258.20H379.55ZM389.51 256.21H395.48V258.20H389.51ZM387.52 258.20H393.49V260.19H387.52ZM385.53 260.19H391.50V262.18H385.53ZM383.54 262.18H389.51V264.17H383.54ZM381.55 264.17H387.52V266.16H381.55ZM397.47 264.17H399.05V266.16H397.47ZM379.56 266.16H385.53V268.15H379.56ZM395.48 266.16H399.05V268.15H395.48ZM379.55 268.15H383.54V270.14H379.55ZM393.49 268.15H399.05V270.14H393.49ZM379.55 270.14H381.55V272.13H379.55ZM391.50 270.14H397.47V272.13H391.50ZM379.55 272.13H379.56V274.12H379.55ZM389.51 272.13H395.48V274.12H389.51ZM387.52 274.12H393.49V276.11H387.52ZM385.53 276.11H391.50V278.10H385.53ZM383.54 278.10H389.51V280.09H383.54ZM381.55 280.09H387.52V282.08H381.55ZM397.47 280.09H399.05V282.08H397.47ZM379.56 282.08H385.53V284.07H379.56ZM395.48 282.08H399.05V284.07H395.48ZM379.55 284.07H383.54V286.06H379.55ZM393.49 284.07H399.05V286.06H393.49ZM379.55 286.06H381.55V288.05H379.55ZM391.50 286.06H397.47V288.05H391.50ZM379.55 288.05H379.56V290.04H379.55ZM389.51 288.05H395.48V290.04H389.51ZM387.52 290.04H393.49V292.03H387.52ZM385.53 292.03H391.50V294.02H385.53ZM383.54 294.02H389.51V296.01H383.54ZM381.55 296.01H387.52V298.00H381.55ZM397.47 296.01H399.05V298.00H397.47ZM379.56 298.00H385.53V299.99H379.56ZM395.48 298.00H399.05V299.99H395.48ZM379.55 299.99H383.54V301.98H379.55ZM393.49 299.99H399.05V301.98H393.49ZM379.55 301.98H381.55V303.97H379.55ZM391.50 301.98H397.47V303.97H391.50ZM379.55 303.97H379.56V305.96H379.55ZM389.51 303.97H395.48V305.96H389.51ZM387.52 305.96H393.49V307.95H387.52ZM385.53 307.95H391.50V309.94H385.53ZM383.54 309.94H389.51V311.93H383.54ZM381.55 311.93H387.52V313.92H381.55ZM397.47 311.93H399.05V313.92H397.47ZM379.56 313.92H385.53V315.91H379.56ZM395.48 313.92H399.05V315.91H395.48ZM379.55 315.91H383.54V317.90H379.55ZM393.49 315.91H399.05V317.90H393.49ZM379.55 317.90H381.55V319.89H379.55ZM391.50 317.90H397.47V319.89H391.50ZM379.55 319.89H379.56V321.88H379.55ZM389.51 319.89H395.48V321.88H389.51ZM387.52 321.88H393.49V323.87H387.52ZM385.53 323.87H391.50V325.86H385.53ZM383.54 325.86H389.51V327.85H383.54ZM381.55 327.85H387.52V329.84H381.55ZM397.47 327.85H399.05V329.84H397.47ZM379.56 329.84H385.53V331.83H379.56ZM395.48 329.84H399.05V331.83H395.48ZM379.55 331.83H383.54V333.82H379.55ZM393.49 331.83H399.05V333.82H393.49ZM379.55 333.82H381.55V335.81H379.55ZM391.50 333.82H397.47V335.81H391.50ZM379.55 335.81H379.56V337.80H379.55ZM389.51 335.81H395.48V337.80H389.51ZM387.52 337.80H393.49V339.79H387.52ZM385.53 339.79H391.50V341.78H385.53ZM383.54 341.78H389.51V343.77H383.54ZM381.55 343.77H387.52V345.30H381.55ZM397.47 343.77H399.05V345.30H397.47ZM467.35 244.20H473.09V244.27H467.35ZM483.04 244.20H486.85V244.27H483.04ZM467.35 244.27H471.10V246.26H467.35ZM481.05 244.27H486.85V246.26H481.05ZM467.35 246.26H469.11V248.25H467.35ZM479.06 246.26H485.03V248.25H479.06ZM477.07 248.25H483.04V250.24H477.07ZM475.08 250.24H481.05V252.23H475.08ZM473.09 252.23H479.06V254.22H473.09ZM471.10 254.22H477.07V256.21H471.10ZM469.11 256.21H475.08V258.20H469.11ZM485.03 256.21H486.85V258.20H485.03ZM467.35 258.20H473.09V260.19H467.35ZM483.04 258.20H486.85V260.19H483.04ZM467.35 260.19H471.10V262.18H467.35ZM481.05 260.19H486.85V262.18H481.05ZM467.35 262.18H469.11V264.17H467.35ZM479.06 262.18H485.03V264.17H479.06ZM477.07 264.17H483.04V266.16H477.07ZM475.08 266.16H481.05V268.15H475.08ZM473.09 268.15H479.06V270.14H473.09ZM471.10 270.14H477.07V272.13H471.10ZM469.11 272.13H475.08V274.12H469.11ZM485.03 272.13H486.85V274.12H485.03ZM467.35 274.12H473.09V276.11H467.35ZM483.04 274.12H486.85V276.11H483.04ZM467.35 276.11H471.10V278.10H467.35ZM481.05 276.11H486.85V278.10H481.05ZM467.35 278.10H469.11V280.09H467.35ZM479.06 278.10H485.03V280.09H479.06ZM477.07 280.09H483.04V282.08H477.07ZM475.08 282.08H481.05V284.07H475.08ZM473.09 284.07H479.06V286.06H473.09ZM471.10 286.06H477.07V288.05H471.10ZM469.11 288.05H475.08V290.04H469.11ZM485.03 288.05H486.85V290.04H485.03ZM467.35 290.04H473.09V292.03H467.35ZM483.04 290.04H486.85V292.03H483.04ZM467.35 292.03H471.10V294.02H467.35ZM481.05 292.03H486.85V294.02H481.05ZM467.35 294.02H469.11V296.01H467.35ZM479.06 294.02H485.03V296.01H479.06ZM477.07 296.01H483.04V298.00H477.07ZM475.08 298.00H481.05V299.99H475.08ZM473.09 299.99H479.06V301.98H473.09ZM471.10 301.98H477.07V303.97H471.10ZM469.11 303.97H475.08V305.96H469.11ZM485.03 303.97H486.85V305.96H485.03ZM467.35 305.96H473.09V307.95H467.35ZM483.04 305.96H486.85V307.95H483.04ZM467.35 307.95H471.10V309.94H467.35ZM481.05 307.95H486.85V309.94H481.05ZM467.35 309.94H469.11V311.93H467.35ZM479.06 309.94H485.03V311.93H479.06ZM477.07 311.93H483.04V313.92H477.07ZM475.08 313.92H481.05V315.91H475.08ZM473.09 315.91H479.06V317.90H473.09ZM471.10 317.90H477.07V319.89H471.10ZM469.11 319.89H475.08V321.88H469.11ZM485.03 319.89H486.85V321.88H485.03ZM467.35 321.88H473.09V323.87H467.35ZM483.04 321.88H486.85V323.87H483.04ZM467.35 323.87H471.10V325.86H467.35ZM481.05 323.87H486.85V325.86H481.05ZM467.35 325.86H469.11V327.85H467.35ZM479.06 325.86H485.03V327.85H479.06ZM477.07 327.85H483.04V329.84H477.07ZM475.08 329.84H481.05V331.83H475.08ZM473.09 331.83H479.06V333.82H473.09ZM471.10 333.82H477.07V335.81H471.10ZM469.11 335.81H475.08V337.80H469.11ZM485.03 335.81H486.85V337.80H485.03ZM467.35 337.80H473.09V339.79H467.35ZM483.04 337.80H486.85V339.79H483.04ZM467.35 339.79H471.10V341.78H467.35ZM481.05 339.79H486.85V341.78H481.05ZM467.35 341.78H469.11V343.77H467.35ZM479.06 341.78H485.03V343.77H479.06ZM477.07 343.77H483.04V345.30H477.07ZM555.15 284.64H558.66V286.06H555.15ZM568.61 284.64H574.58V286.06H568.61ZM555.15 286.06H556.67V288.05H555.15ZM566.62 286.06H572.59V288.05H566.62ZM564.63 288.05H570.60V290.04H564.63ZM562.64 290.04H568.61V292.03H562.64ZM560.65 292.03H566.62V294.02H560.65ZM558.66 294.02H564.63V296.01H558.66ZM574.58 294.02H574.65V296.01H574.58ZM556.67 296.01H562.64V298.00H556.67ZM572.59 296.01H574.65V298.00H572.59ZM555.15 298.00H560.65V299.99H555.15ZM570.60 298.00H574.65V299.99H570.60ZM555.15 299.99H558.66V301.98H555.15ZM568.61 299.99H574.58V301.98H568.61ZM555.15 301.98H556.67V303.97H555.15ZM566.62 301.98H572.59V303.97H566.62ZM564.63 303.97H570.60V305.96H564.63ZM562.64 305.96H568.61V307.95H562.64ZM560.65 307.95H566.62V309.94H560.65ZM558.66 309.94H564.63V311.93H558.66ZM574.58 309.94H574.65V311.93H574.58ZM556.67 311.93H562.64V313.92H556.67ZM572.59 311.93H574.65V313.92H572.59ZM555.15 313.92H560.65V315.91H555.15ZM570.60 313.92H574.65V315.91H570.60ZM555.15 315.91H558.66V317.90H555.15ZM568.61 315.91H574.58V317.90H568.61ZM555.15 317.90H556.67V319.89H555.15ZM566.62 317.90H572.59V319.89H566.62ZM564.63 319.89H570.60V321.88H564.63ZM562.64 321.88H568.61V323.87H562.64ZM560.65 323.87H566.62V325.86H560.65ZM558.66 325.86H564.63V327.85H558.66ZM574.58 325.86H574.65V327.85H574.58ZM556.67 327.85H562.64V329.84H556.67ZM572.59 327.85H574.65V329.84H572.59ZM555.15 329.84H560.65V331.83H555.15ZM570.60 329.84H574.65V331.83H570.60ZM555.15 331.83H558.66V333.82H555.15ZM568.61 331.83H574.58V333.82H568.61ZM555.15 333.82H556.67V335.81H555.15ZM566.62 333.82H572.59V335.81H566.62ZM564.63 335.81H570.60V337.80H564.63ZM562.64 337.80H568.61V339.79H562.64ZM560.65 339.79H566.62V341.78H560.65ZM558.66 341.78H564.63V343.77H558.66ZM574.58 341.78H574.65V343.77H574.58ZM556.67 343.77H562.64V345.30H556.67ZM572.59 343.77H574.65V345.30H572.59ZM642.95 338.56H648.21V339.79H642.95ZM658.16 338.56H662.45V339.79H658.16ZM642.95 339.79H646.22V341.78H642.95ZM656.17 339.79H662.14V341.78H656.17ZM642.95 341.78H644.23V343.77H642.95ZM654.18 341.78H660.15V343.77H654.18ZM652.19 343.77H658.16V345.30H652.19Z" fill="#ff0000" shape-rendering="crispEdges"/>
<path d="M91.00 345.30V31.89H110.50V345.30" fill="none" stroke="#2f5597" stroke-width="1.3"/>
<path d="M116.15 345.30V25.15H135.65V345.30" fill="none" stroke="#ff0000" stroke-width="1.3"/>
<line x1="101.05" y1="16.39" x2="101.05" y2="47.39" stroke="#6b6b6b" stroke-width="1.8"/>
<line x1="95.95" y1="16.24" x2="105.55" y2="16.24" stroke="#6b6b6b" stroke-width="1.8"/>
<line x1="95.95" y1="47.24" x2="105.55" y2="47.24" stroke="#6b6b6b" stroke-width="1.8"/>
<line x1="126.20" y1="9.14" x2="126.20" y2="41.16" stroke="#6b6b6b" stroke-width="1.8"/>
<line x1="121.10" y1="8.99" x2="130.70" y2="8.99" stroke="#6b6b6b" stroke-width="1.8"/>
<line x1="121.10" y1="41.01" x2="130.70" y2="41.01" stroke="#6b6b6b" stroke-width="1.8"/>
<path d="M178.80 345.30V75.70H198.30V345.30" fill="none" stroke="#2f5597" stroke-width="1.3"/>
<path d="M203.95 345.30V82.44H223.45V345.30" fill="none" stroke="#ff0000" stroke-width="1.3"/>
<line x1="188.85" y1="62.22" x2="188.85" y2="89.18" stroke="#6b6b6b" stroke-width="1.8"/>
<line x1="183.75" y1="62.07" x2="193.35" y2="62.07" stroke="#6b6b6b" stroke-width="1.8"/>
<line x1="183.75" y1="89.03" x2="193.35" y2="89.03" stroke="#6b6b6b" stroke-width="1.8"/>
<line x1="214.00" y1="69.30" x2="214.00" y2="95.58" stroke="#6b6b6b" stroke-width="1.8"/>
<line x1="208.90" y1="69.15" x2="218.50" y2="69.15" stroke="#6b6b6b" stroke-width="1.8"/>
<line x1="208.90" y1="95.43" x2="218.50" y2="95.43" stroke="#6b6b6b" stroke-width="1.8"/>
<path d="M266.60 345.30V99.29H286.10V345.30" fill="none" stroke="#2f5597" stroke-width="1.3"/>
<path d="M291.75 345.30V136.36H311.25V345.30" fill="none" stroke="#ff0000" stroke-width="1.3"/>
<line x1="276.65" y1="87.16" x2="276.65" y2="111.42" stroke="#6b6b6b" stroke-width="1.8"/>
<line x1="271.55" y1="87.01" x2="281.15" y2="87.01" stroke="#6b6b6b" stroke-width="1.8"/>
<line x1="271.55" y1="111.27" x2="281.15" y2="111.27" stroke="#6b6b6b" stroke-width="1.8"/>
<line x1="301.80" y1="126.08" x2="301.80" y2="146.64" stroke="#6b6b6b" stroke-width="1.8"/>
<line x1="296.70" y1="125.93" x2="306.30" y2="125.93" stroke="#6b6b6b" stroke-width="1.8"/>
<line x1="296.70" y1="146.49" x2="306.30" y2="146.49" stroke="#6b6b6b" stroke-width="1.8"/>
<path d="M354.40 345.30V173.43H373.90V345.30" fill="none" stroke="#2f5597" stroke-width="1.3"/>
<path d="M379.55 345.30V207.13H399.05V345.30" fill="none" stroke="#ff0000" stroke-width="1.3"/>
<line x1="364.45" y1="165.00" x2="364.45" y2="181.86" stroke="#6b6b6b" stroke-width="1.8"/>
<line x1="359.35" y1="164.85" x2="368.95" y2="164.85" stroke="#6b6b6b" stroke-width="1.8"/>
<line x1="359.35" y1="181.71" x2="368.95" y2="181.71" stroke="#6b6b6b" stroke-width="1.8"/>
<line x1="389.60" y1="200.22" x2="389.60" y2="214.04" stroke="#6b6b6b" stroke-width="1.8"/>
<line x1="384.50" y1="200.07" x2="394.10" y2="200.07" stroke="#6b6b6b" stroke-width="1.8"/>
<line x1="384.50" y1="213.89" x2="394.10" y2="213.89" stroke="#6b6b6b" stroke-width="1.8"/>
<path d="M442.20 345.30V200.39H461.70V345.30" fill="none" stroke="#2f5597" stroke-width="1.3"/>
<path d="M467.35 345.30V244.20H486.85V345.30" fill="none" stroke="#ff0000" stroke-width="1.3"/>
<line x1="452.25" y1="193.48" x2="452.25" y2="207.30" stroke="#6b6b6b" stroke-width="1.8"/>
<line x1="447.15" y1="193.33" x2="456.75" y2="193.33" stroke="#6b6b6b" stroke-width="1.8"/>
<line x1="447.15" y1="207.15" x2="456.75" y2="207.15" stroke="#6b6b6b" stroke-width="1.8"/>
<line x1="477.40" y1="239.15" x2="477.40" y2="249.25" stroke="#6b6b6b" stroke-width="1.8"/>
<line x1="472.30" y1="239.00" x2="481.90" y2="239.00" stroke="#6b6b6b" stroke-width="1.8"/>
<line x1="472.30" y1="249.10" x2="481.90" y2="249.10" stroke="#6b6b6b" stroke-width="1.8"/>
<path d="M530.00 345.30V271.16H549.50V345.30" fill="none" stroke="#2f5597" stroke-width="1.3"/>
<path d="M555.15 345.30V284.64H574.65V345.30" fill="none" stroke="#ff0000" stroke-width="1.3"/>
<line x1="540.05" y1="267.62" x2="540.05" y2="274.70" stroke="#6b6b6b" stroke-width="1.8"/>
<line x1="534.95" y1="267.47" x2="544.55" y2="267.47" stroke="#6b6b6b" stroke-width="1.8"/>
<line x1="534.95" y1="274.55" x2="544.55" y2="274.55" stroke="#6b6b6b" stroke-width="1.8"/>
<line x1="565.20" y1="281.61" x2="565.20" y2="287.67" stroke="#6b6b6b" stroke-width="1.8"/>
<line x1="560.10" y1="281.46" x2="569.70" y2="281.46" stroke="#6b6b6b" stroke-width="1.8"/>
<line x1="560.10" y1="287.52" x2="569.70" y2="287.52" stroke="#6b6b6b" stroke-width="1.8"/>
<path d="M617.80 345.30V325.08H637.30V345.30" fill="none" stroke="#2f5597" stroke-width="1.3"/>
<path d="M642.95 345.30V338.56H662.45V345.30" fill="none" stroke="#ff0000" stroke-width="1.3"/>
<line x1="627.85" y1="323.90" x2="627.85" y2="326.26" stroke="#6b6b6b" stroke-width="1.8"/>
<line x1="622.75" y1="323.75" x2="632.35" y2="323.75" stroke="#6b6b6b" stroke-width="1.8"/>
<line x1="622.75" y1="326.11" x2="632.35" y2="326.11" stroke="#6b6b6b" stroke-width="1.8"/>
<line x1="653.00" y1="337.89" x2="653.00" y2="339.23" stroke="#6b6b6b" stroke-width="1.8"/>
<line x1="647.90" y1="337.74" x2="657.50" y2="337.74" stroke="#6b6b6b" stroke-width="1.8"/>
<line x1="647.90" y1="339.08" x2="657.50" y2="339.08" stroke="#6b6b6b" stroke-width="1.8"/>
<line x1="69.5" y1="345.50" x2="684" y2="345.50" stroke="#a8a6a4" stroke-width="1.4"/>
<text transform="translate(113.90,372.7) scale(1,1.06)" text-anchor="middle" font-size="20.6" fill="#000">0</text>
<text transform="translate(201.70,372.7) scale(1,1.06)" text-anchor="middle" font-size="20.6" fill="#000">1</text>
<text transform="translate(289.50,372.7) scale(1,1.06)" text-anchor="middle" font-size="20.6" fill="#000">1.5</text>
<text transform="translate(377.30,372.7) scale(1,1.06)" text-anchor="middle" font-size="20.6" fill="#000">2</text>
<text transform="translate(465.10,372.7) scale(1,1.06)" text-anchor="middle" font-size="20.6" fill="#000">2.5</text>
<text transform="translate(552.90,372.7) scale(1,1.06)" text-anchor="middle" font-size="20.6" fill="#000">3</text>
<text transform="translate(640.70,372.7) scale(1,1.06)" text-anchor="middle" font-size="20.6" fill="#000">4</text>
<text transform="translate(271.1,408.7) scale(1,1.09)" font-size="23.88" fill="#000">AgNPs Concentration (g)</text>
<text transform="translate(16.9,261) rotate(-90)" font-size="24" fill="#000">CFU of Control (%)</text>
<path d="M589 47h10v10h-10zM590 48v8h8v-8z" fill="#2f5597" fill-rule="evenodd" shape-rendering="crispEdges"/>
<path d="M590 48h1v1h-1zM593 54h5v2h-5zM595 52h3v2h-3zM597 50h1v2h-1z" fill="#2f5597" shape-rendering="crispEdges"/>
<text x="603" y="57.80" font-size="18.67" fill="#000">E-coli</text>
<path d="M589 80h10v10h-10zM590 81v8h8v-8z" fill="#ff0000" fill-rule="evenodd" shape-rendering="crispEdges"/>
<path d="M590 81h1v1h-1zM593 87h5v2h-5zM595 85h3v2h-3zM597 83h1v2h-1z" fill="#ff0000" shape-rendering="crispEdges"/>
<text x="603" y="90.80" font-size="18.67" fill="#000">S-aureus</text>
</svg></body></html>
